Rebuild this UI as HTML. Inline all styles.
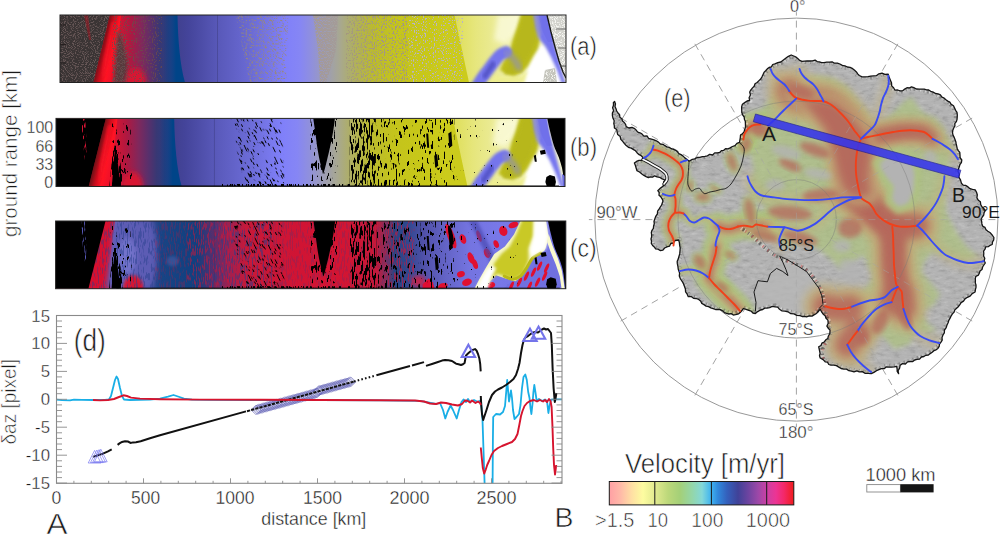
<!DOCTYPE html>
<html><head><meta charset="utf-8"><title>figure</title>
<style>html,body{margin:0;padding:0;background:#fff;overflow:hidden}svg{display:block}text{font-family:"Liberation Sans",sans-serif}</style></head>
<body>
<svg width="1000" height="534" viewBox="0 0 1000 534">
<rect width="1000" height="534" fill="#fff"/>
<defs>
<linearGradient id="gA" gradientUnits="userSpaceOnUse" x1="60" y1="0" x2="566" y2="0"><stop offset="0.0000" stop-color="#e01028"/><stop offset="0.0949" stop-color="#e81028"/><stop offset="0.1146" stop-color="#d81430"/><stop offset="0.1383" stop-color="#b01840"/><stop offset="0.1621" stop-color="#80285c"/><stop offset="0.1818" stop-color="#58306c"/><stop offset="0.1976" stop-color="#383874"/><stop offset="0.2134" stop-color="#2c3c80"/><stop offset="0.2292" stop-color="#40408e"/><stop offset="0.2530" stop-color="#44449a"/><stop offset="0.2767" stop-color="#4c4ca6"/><stop offset="0.3103" stop-color="#5858b8"/><stop offset="0.3755" stop-color="#6a6ad4"/><stop offset="0.4447" stop-color="#8080fa"/><stop offset="0.4743" stop-color="#8686f4"/><stop offset="0.4980" stop-color="#9090dc"/><stop offset="0.5237" stop-color="#9c9cb8"/><stop offset="0.5534" stop-color="#a8a890"/><stop offset="0.5830" stop-color="#b0b05c"/><stop offset="0.6166" stop-color="#baba30"/><stop offset="0.6621" stop-color="#c4c41c"/><stop offset="0.7312" stop-color="#c8c818"/><stop offset="0.7708" stop-color="#cccc1c"/><stop offset="0.7787" stop-color="#dede58"/><stop offset="0.8202" stop-color="#e6e67c"/><stop offset="0.8696" stop-color="#ecec9c"/><stop offset="0.9091" stop-color="#f4f4c0"/><stop offset="1.0000" stop-color="#f8f8d0"/></linearGradient>
<linearGradient id="gC" gradientUnits="userSpaceOnUse" x1="60" y1="0" x2="566" y2="0"><stop offset="0.0000" stop-color="#d81030"/><stop offset="0.1028" stop-color="#d81030"/><stop offset="0.1146" stop-color="#7060b8"/><stop offset="0.1482" stop-color="#6060b8"/><stop offset="0.1779" stop-color="#404898"/><stop offset="0.2075" stop-color="#184484"/><stop offset="0.2767" stop-color="#104080"/><stop offset="0.3063" stop-color="#503070"/><stop offset="0.3399" stop-color="#a02050"/><stop offset="0.3755" stop-color="#c81838"/><stop offset="0.4743" stop-color="#d01434"/><stop offset="0.5534" stop-color="#d41432"/><stop offset="0.6285" stop-color="#c81838"/><stop offset="0.6482" stop-color="#803060"/><stop offset="0.6640" stop-color="#284484"/><stop offset="0.6917" stop-color="#304890"/><stop offset="0.7213" stop-color="#5050a8"/><stop offset="0.7609" stop-color="#6262c4"/><stop offset="0.8103" stop-color="#7474e0"/><stop offset="0.8696" stop-color="#7878e8"/><stop offset="1.0000" stop-color="#7070e0"/></linearGradient>
<linearGradient id="gBlueEdge" gradientUnits="userSpaceOnUse" x1="60" y1="0" x2="566" y2="0"><stop offset="0.2036" stop-color="#104080" stop-opacity="0"/><stop offset="0.2292" stop-color="#004488" stop-opacity="1"/><stop offset="0.2490" stop-color="#004488" stop-opacity="1"/></linearGradient>
<linearGradient id="gRedStreak" gradientUnits="userSpaceOnUse" x1="93.5" y1="82.5" x2="113.9" y2="87.5"><stop offset="0" stop-color="#7c1018"/><stop offset="0.22" stop-color="#cc0c1c"/><stop offset="0.5" stop-color="#ff1424"/><stop offset="0.8" stop-color="#f01028"/><stop offset="1" stop-color="#e01028"/></linearGradient>
<filter id="b1" x="-0.3" y="-0.3" width="1.6" height="1.6"><feGaussianBlur stdDeviation="0.7"/></filter>
<filter id="b2" x="-0.3" y="-0.3" width="1.6" height="1.6"><feGaussianBlur stdDeviation="1.4"/></filter>
<filter id="b3" x="-0.3" y="-0.3" width="1.6" height="1.6"><feGaussianBlur stdDeviation="2.5"/></filter>
<filter id="b4" x="-0.3" y="-0.3" width="1.6" height="1.6"><feGaussianBlur stdDeviation="4"/></filter>
<filter id="nDark" x="0" y="0" width="1" height="1" color-interpolation-filters="sRGB"><feTurbulence type="fractalNoise" baseFrequency="1.1 1.1" numOctaves="1" seed="2" result="n"/><feColorMatrix in="n" type="matrix" values="0 0 0 0 0.400  0 0 0 0 0.337  0 0 0 0 0.337  7 0 0 0 -3.500" result="c"/><feComposite in="c" in2="SourceGraphic" operator="in"/></filter>
<filter id="nDarkR" x="0" y="0" width="1" height="1" color-interpolation-filters="sRGB"><feTurbulence type="fractalNoise" baseFrequency="0.9 0.6" numOctaves="1" seed="3" result="n"/><feColorMatrix in="n" type="matrix" values="0 0 0 0 0.424  0 0 0 0 0.298  0 0 0 0 0.298  12 0 0 0 -6.840" result="c"/><feComposite in="c" in2="SourceGraphic" operator="in"/></filter>
<filter id="nGrayA" x="0" y="0" width="1" height="1" color-interpolation-filters="sRGB"><feTurbulence type="fractalNoise" baseFrequency="0.9 0.55" numOctaves="1" seed="5" result="n"/><feColorMatrix in="n" type="matrix" values="0 0 0 0 0.596  0 0 0 0 0.533  0 0 0 0 0.471  16 0 0 0 -9.360" result="c"/><feComposite in="c" in2="SourceGraphic" operator="in"/></filter>
<filter id="nGrayB" x="0" y="0" width="1" height="1" color-interpolation-filters="sRGB"><feTurbulence type="fractalNoise" baseFrequency="1.0 0.7" numOctaves="1" seed="7" result="n"/><feColorMatrix in="n" type="matrix" values="0 0 0 0 0.643  0 0 0 0 0.604  0 0 0 0 0.596  10 0 0 0 -4.100" result="c"/><feComposite in="c" in2="SourceGraphic" operator="in"/></filter>
<filter id="nGrayC" x="0" y="0" width="1" height="1" color-interpolation-filters="sRGB"><feTurbulence type="fractalNoise" baseFrequency="0.9 0.6" numOctaves="1" seed="11" result="n"/><feColorMatrix in="n" type="matrix" values="0 0 0 0 0.722  0 0 0 0 0.706  0 0 0 0 0.784  16 0 0 0 -9.600" result="c"/><feComposite in="c" in2="SourceGraphic" operator="in"/></filter>
<filter id="nGrayD" x="0" y="0" width="1" height="1" color-interpolation-filters="sRGB"><feTurbulence type="fractalNoise" baseFrequency="0.9 0.6" numOctaves="1" seed="17" result="n"/><feColorMatrix in="n" type="matrix" values="0 0 0 0 0.643  0 0 0 0 0.596  0 0 0 0 0.502  14 0 0 0 -7.700" result="c"/><feComposite in="c" in2="SourceGraphic" operator="in"/></filter>
<filter id="nBlkA" x="0" y="0" width="1" height="1" color-interpolation-filters="sRGB"><feTurbulence type="fractalNoise" baseFrequency="0.55 0.12" numOctaves="2" seed="5" result="n"/><feColorMatrix in="n" type="matrix" values="0 0 0 0 0.000  0 0 0 0 0.000  0 0 0 0 0.000  20 0 0 0 -12.000" result="c"/><feComposite in="c" in2="SourceGraphic" operator="in"/></filter>
<filter id="nBlkB" x="0" y="0" width="1" height="1" color-interpolation-filters="sRGB"><feTurbulence type="fractalNoise" baseFrequency="0.55 0.1" numOctaves="2" seed="9" result="n"/><feColorMatrix in="n" type="matrix" values="0 0 0 0 0.000  0 0 0 0 0.000  0 0 0 0 0.000  20 0 0 0 -10.000" result="c"/><feComposite in="c" in2="SourceGraphic" operator="in"/></filter>
<filter id="nBlkE" x="0" y="0" width="1" height="1" color-interpolation-filters="sRGB"><feTurbulence type="fractalNoise" baseFrequency="0.5 0.2" numOctaves="2" seed="31" result="n"/><feColorMatrix in="n" type="matrix" values="0 0 0 0 0.000  0 0 0 0 0.000  0 0 0 0 0.000  20 0 0 0 -14.800" result="c"/><feComposite in="c" in2="SourceGraphic" operator="in"/></filter>
<filter id="nBlkF" x="0" y="0" width="1" height="1" color-interpolation-filters="sRGB"><feTurbulence type="fractalNoise" baseFrequency="0.5 0.13" numOctaves="2" seed="41" result="n"/><feColorMatrix in="n" type="matrix" values="0 0 0 0 0.000  0 0 0 0 0.000  0 0 0 0 0.000  20 0 0 0 -12.400" result="c"/><feComposite in="c" in2="SourceGraphic" operator="in"/></filter>
<filter id="nBlkD" x="0" y="0" width="1" height="1" color-interpolation-filters="sRGB"><feTurbulence type="fractalNoise" baseFrequency="0.8 0.16" numOctaves="2" seed="15" result="n"/><feColorMatrix in="n" type="matrix" values="0 0 0 0 0.000  0 0 0 0 0.000  0 0 0 0 0.000  20 0 0 0 -12.600" result="c"/><feComposite in="c" in2="SourceGraphic" operator="in"/></filter>
<filter id="nBlkC" x="0" y="0" width="1" height="1" color-interpolation-filters="sRGB"><feTurbulence type="fractalNoise" baseFrequency="0.5 0.14" numOctaves="2" seed="13" result="n"/><feColorMatrix in="n" type="matrix" values="0 0 0 0 0.000  0 0 0 0 0.000  0 0 0 0 0.000  20 0 0 0 -12.800" result="c"/><feComposite in="c" in2="SourceGraphic" operator="in"/></filter>
<filter id="nRedC" x="0" y="0" width="1" height="1" color-interpolation-filters="sRGB"><feTurbulence type="fractalNoise" baseFrequency="0.8 0.12" numOctaves="2" seed="21" result="n"/><feColorMatrix in="n" type="matrix" values="0 0 0 0 0.847  0 0 0 0 0.078  0 0 0 0 0.204  8 0 0 0 -4.000" result="c"/><feComposite in="c" in2="SourceGraphic" operator="in"/></filter>
<filter id="nBluC" x="0" y="0" width="1" height="1" color-interpolation-filters="sRGB"><feTurbulence type="fractalNoise" baseFrequency="0.8 0.12" numOctaves="2" seed="23" result="n"/><feColorMatrix in="n" type="matrix" values="0 0 0 0 0.157  0 0 0 0 0.251  0 0 0 0 0.549  8 0 0 0 -4.160" result="c"/><feComposite in="c" in2="SourceGraphic" operator="in"/></filter>
<filter id="nBluL" x="0" y="0" width="1" height="1" color-interpolation-filters="sRGB"><feTurbulence type="fractalNoise" baseFrequency="0.8 0.12" numOctaves="2" seed="21" result="n"/><feColorMatrix in="n" type="matrix" values="0 0 0 0 0.345  0 0 0 0 0.345  0 0 0 0 0.722  8 0 0 0 -4.000" result="c"/><feComposite in="c" in2="SourceGraphic" operator="in"/></filter>
<filter id="nWhite" x="0" y="0" width="1" height="1" color-interpolation-filters="sRGB"><feTurbulence type="fractalNoise" baseFrequency="1.1 1.1" numOctaves="1" seed="4" result="n"/><feColorMatrix in="n" type="matrix" values="0 0 0 0 0.965  0 0 0 0 0.965  0 0 0 0 0.949  7 0 0 0 -3.500" result="c"/><feComposite in="c" in2="SourceGraphic" operator="in"/></filter>
<clipPath id="cpA"><rect x="60" y="15" width="506" height="67.5"/></clipPath>
<g id="blk">
<path d="M60 15 L109.5 15 L92.5 82.5 L60 82.5Z" fill="#000" />
<path d="M119 42 L121 56 L122.5 68 L124.5 82.5 L115.5 82.5 L116.5 70 L117.5 56Z" fill="#000" />
<path d="M117 42 L122 42 L127 82.5 L113 82.5Z" fill="#000" filter="url(#nBlkB)"/>
<path d="M114 20 L134 20 L136 75 L120 75Z" fill="#000" filter="url(#nBlkC)"/>
<g transform="translate(-22.4 0) skewX(25)"><path d="M248.4 15 L299.4 15 L271 82.5 L232 82.5Z" fill="#000" filter="url(#nBlkD)"/>
</g>
<path d="M315.5 13.0C315.8 15.3 316.8 22.2 317.5 27.0C318.2 31.8 318.8 37.2 319.5 42.0C320.2 46.8 321.2 52.0 322.0 56.0C322.8 60.0 323.9 63.7 324.5 66.0C325.1 68.3 325.1 70.0 325.5 70.0C325.9 70.0 326.3 68.3 327.0 66.0C327.7 63.7 328.6 59.8 329.5 56.0C330.4 52.2 331.5 47.7 332.5 43.0C333.5 38.3 334.7 33.0 335.5 28.0C336.3 23.0 337.2 15.5 337.5 13.0Z" fill="#000"/>
<rect x="313" y="15" width="27" height="62" fill="#000" filter="url(#nBlkA)"/>
<rect x="352" y="15" width="26" height="68" fill="#000" filter="url(#nBlkB)"/>
<rect x="378" y="15" width="24" height="68" fill="#000" filter="url(#nBlkA)"/>
<rect x="402" y="15" width="20" height="68" fill="#000" filter="url(#nBlkC)"/>
<rect x="422" y="15" width="34" height="68" fill="#000" filter="url(#nBlkF)"/>
<path d="M450 30 L453 28 L454 42 L451 44Z" fill="#000" />
<path d="M436 52 L439 50 L440 62 L437 64Z" fill="#000" />
<path d="M428 30 L430 30 L431 44 L429 44Z" fill="#000" />
<rect x="458" y="15" width="60" height="68" fill="#000" filter="url(#nBlkE)"/>
<rect x="120" y="81.5" width="440" height="1" fill="#000"/>
<rect x="225" y="80" width="130" height="2" fill="#000" filter="url(#nBlkB)"/>
<path d="M548.0 13.0C548.5 15.3 549.8 22.2 551.0 27.0C552.2 31.8 553.5 37.5 555.0 42.0C556.5 46.5 558.7 50.3 560.0 54.0C561.3 57.7 562.2 60.7 563.0 64.0C563.8 67.3 564.1 70.7 564.5 74.0C564.9 77.3 565.3 82.3 565.5 84.0 L568 84 L568 13Z" fill="#000"/>
<path d="M547.5 73 L551 71 L556 72.5 L557 78 L556 82.5 L548 82.5 L546.5 78Z" fill="#000" />
<path d="M541 47 L546 46 L547 50 L542 51Z" fill="#000" />
<path d="M535 52 L537 51 L538 58 L536 58Z" fill="#000" />
</g>
<clipPath id="cpLand"><path d="M614.6 101.5 L615.5 103.9 L615.0 106.5 L616.0 108.8 L616.7 111.0 L618.0 113.0 L619.6 114.8 L619.9 117.3 L621.9 118.7 L622.5 121.0 L624.3 122.5 L625.6 124.4 L626.2 126.6 L628.9 128.0 L632.0 127.4 L634.7 128.6 L636.3 130.3 L637.8 132.1 L640.0 132.8 L641.9 133.9 L643.9 136.1 L647.0 135.9 L648.7 138.5 L651.5 139.2 L654.0 139.8 L656.3 140.8 L658.4 142.1 L660.4 144.0 L663.0 144.3 L664.9 145.7 L667.0 146.8 L669.3 147.4 L671.3 148.7 L673.6 149.4 L675.7 150.3 L677.5 151.8 L678.9 153.7 L681.0 154.6 L682.9 155.9 L684.8 157.9 L687.1 159.5 L689.0 161.2 L692.3 159.4 L694.8 158.9 L697.1 157.5 L699.8 157.4 L702.3 156.7 L704.9 156.3 L707.4 155.8 L709.7 154.4 L712.6 155.0 L714.7 152.9 L717.4 152.8 L719.7 152.5 L721.4 150.6 L723.7 150.3 L725.5 148.7 L728.0 148.8 L730.1 147.9 L732.4 146.5 L735.0 145.6 L736.9 143.4 L739.5 142.4 L739.9 140.0 L740.3 137.6 L740.5 135.1 L742.4 133.7 L743.9 132.1 L744.7 129.8 L745.5 126.7 L745.4 123.6 L745.3 121.3 L744.4 119.3 L744.2 117.0 L742.8 115.2 L741.8 112.5 L741.7 109.6 L741.6 106.9 L742.4 104.2 L744.7 102.6 L747.1 101.0 L749.6 100.5 L749.1 97.7 L750.4 94.9 L749.7 92.0 L750.9 89.8 L752.5 87.9 L754.2 86.2 L755.0 83.8 L757.1 82.5 L758.7 80.9 L760.7 79.0 L762.1 76.6 L763.2 74.2 L764.2 72.1 L765.9 70.5 L767.3 68.8 L769.1 67.5 L771.4 66.9 L772.7 64.5 L774.9 63.8 L777.8 62.6 L780.8 62.0 L783.4 60.0 L786.0 58.1 L788.4 56.3 L791.2 55.0 L795.0 56.5 L797.5 58.3 L799.6 60.4 L802.0 61.4 L804.5 61.1 L807.0 61.0 L809.7 61.0 L812.4 60.9 L815.1 60.1 L817.1 61.6 L819.4 61.9 L821.6 62.6 L824.0 62.7 L826.7 62.2 L829.3 62.1 L832.1 61.8 L834.5 63.2 L837.4 63.1 L839.9 64.0 L842.3 65.4 L844.9 65.9 L847.4 67.0 L850.1 67.4 L852.7 68.7 L854.6 70.3 L856.4 71.9 L857.7 73.9 L859.3 75.5 L862.1 76.9 L865.1 76.8 L868.0 76.7 L870.7 76.2 L873.5 75.9 L876.3 75.7 L878.9 73.8 L882.0 73.2 L884.9 74.4 L888.2 74.1 L889.1 77.0 L890.3 79.9 L891.5 82.8 L891.7 85.9 L893.6 87.7 L895.0 90.2 L897.7 90.0 L900.0 90.8 L902.7 90.8 L904.7 89.1 L907.0 87.7 L909.3 88.0 L911.5 86.9 L913.8 87.7 L916.4 89.0 L919.2 89.2 L922.0 89.1 L924.3 89.1 L926.5 89.8 L928.7 90.0 L930.7 91.3 L933.2 92.1 L935.4 93.5 L938.1 93.9 L940.4 94.9 L942.0 97.1 L944.2 98.2 L945.9 99.8 L947.8 101.1 L949.8 102.1 L951.2 104.3 L953.5 105.8 L954.6 108.1 L955.6 110.3 L957.0 112.4 L957.3 115.0 L957.2 117.3 L957.0 119.6 L956.3 121.7 L954.8 123.6 L954.9 126.0 L953.7 128.0 L952.8 130.3 L952.5 132.8 L953.1 135.4 L954.2 137.4 L955.0 139.5 L955.8 141.7 L956.2 143.9 L956.7 146.2 L957.2 148.5 L958.3 150.6 L959.8 152.4 L960.0 155.0 L960.1 157.6 L961.8 160.0 L961.4 162.7 L959.9 164.5 L959.3 166.8 L958.5 168.9 L958.0 171.2 L959.1 174.0 L958.8 177.1 L960.5 179.9 L961.4 183.2 L963.2 185.1 L965.9 185.5 L968.0 186.9 L970.0 188.7 L972.5 189.4 L975.2 189.9 L976.5 192.3 L977.3 194.8 L976.9 197.8 L978.3 200.2 L980.4 201.8 L980.7 204.5 L981.9 206.8 L983.7 208.5 L985.4 210.4 L984.1 212.6 L983.7 215.1 L982.3 217.0 L981.1 219.3 L981.7 221.6 L981.9 223.9 L982.8 226.2 L985.0 227.4 L986.0 229.7 L987.8 231.2 L990.3 232.8 L992.2 235.0 L993.9 237.5 L993.7 239.9 L992.5 242.0 L992.2 244.5 L990.1 245.3 L988.3 246.7 L985.7 246.9 L985.0 249.2 L983.6 251.1 L983.8 253.5 L983.6 256.0 L984.8 258.2 L984.2 260.7 L985.3 263.0 L983.9 265.0 L982.6 267.0 L982.0 269.5 L980.0 271.0 L979.3 273.2 L978.3 275.2 L975.9 276.3 L975.3 278.4 L975.4 280.6 L975.3 282.9 L976.0 285.0 L976.0 287.4 L975.4 289.7 L975.1 292.0 L972.2 293.6 L970.1 296.2 L967.4 297.3 L965.0 298.9 L963.5 301.1 L961.1 302.6 L959.7 304.9 L958.0 307.0 L956.3 308.5 L954.7 310.1 L954.0 312.3 L952.4 313.9 L951.2 315.8 L950.1 318.1 L948.8 320.3 L948.1 322.7 L947.0 325.0 L946.2 327.6 L944.5 330.0 L944.3 332.9 L943.0 335.0 L942.0 337.4 L942.2 340.1 L941.0 342.1 L939.5 344.0 L939.2 346.3 L937.9 348.4 L936.1 349.8 L933.9 350.7 L932.2 352.3 L930.2 353.6 L928.4 355.0 L925.8 355.3 L923.9 356.5 L921.4 357.0 L919.6 359.1 L916.9 359.4 L914.7 360.0 L912.8 361.6 L910.3 361.5 L907.6 361.9 L905.4 364.0 L902.4 363.6 L900.2 365.2 L899.6 368.1 L898.1 370.8 L898.6 373.7 L897.2 371.4 L897.1 368.8 L896.7 366.3 L894.2 366.8 L891.6 367.2 L889.1 367.2 L886.4 366.8 L884.2 368.7 L881.4 368.6 L878.9 369.7 L876.5 370.7 L873.9 372.4 L871.2 373.7 L868.1 373.4 L864.9 373.3 L862.3 371.6 L859.3 371.8 L856.9 370.8 L854.0 371.9 L851.5 371.2 L848.9 370.7 L846.6 369.1 L843.8 369.1 L841.1 368.5 L838.8 367.1 L836.4 365.6 L833.7 365.1 L830.9 365.2 L828.8 364.5 L827.5 362.2 L825.2 361.8 L823.1 359.6 L820.2 358.0 L819.5 355.7 L820.1 353.3 L819.4 350.2 L818.7 346.8 L821.0 345.5 L821.9 343.2 L824.2 342.0 L825.8 339.8 L827.8 338.5 L828.3 336.2 L829.9 333.3 L830.0 330.0 L828.2 328.2 L826.9 326.1 L828.2 323.2 L827.9 320.1 L826.0 318.3 L825.2 315.8 L823.2 314.2 L821.8 312.2 L820.2 309.2 L817.7 312.3 L816.0 313.8 L814.0 314.9 L812.0 316.1 L809.2 315.9 L806.5 316.9 L804.3 316.4 L802.1 316.5 L800.0 315.6 L796.8 315.4 L794.0 313.9 L790.8 313.7 L788.0 311.8 L784.9 311.2 L781.7 310.8 L779.5 309.3 L777.7 307.2 L775.1 306.8 L772.2 306.4 L769.7 307.6 L767.0 308.0 L764.7 308.1 L762.7 309.5 L760.5 310.0 L757.7 311.6 L755.4 313.5 L752.9 313.0 L751.1 311.1 L748.8 310.4 L746.1 309.3 L743.5 308.5 L740.8 311.9 L738.6 313.8 L735.6 314.7 L733.3 315.0 L731.2 313.6 L728.9 314.0 L726.6 313.4 L724.4 312.6 L722.6 310.8 L720.4 309.7 L718.0 309.5 L715.5 309.5 L713.2 308.7 L710.8 307.9 L708.6 306.6 L706.1 306.1 L704.0 304.6 L701.8 303.4 L700.6 300.9 L698.7 299.4 L696.2 298.5 L693.5 298.3 L691.2 296.5 L688.3 296.7 L687.2 294.2 L685.6 291.9 L685.4 289.0 L684.6 286.8 L683.8 284.5 L682.8 282.4 L680.5 279.0 L679.3 276.1 L679.6 273.1 L678.2 269.0 L677.9 266.3 L677.3 263.4 L677.2 261.2 L678.2 259.1 L678.8 257.0 L679.7 253.9 L680.0 250.8 L680.2 247.9 L679.6 245.0 L679.4 242.6 L678.6 240.0 L675.1 240.5 L673.5 243.0 L670.8 243.5 L669.5 246.2 L666.9 246.9 L664.6 248.0 L662.9 250.2 L660.4 250.6 L658.1 249.2 L655.6 248.9 L654.3 247.0 L652.6 245.5 L651.3 243.5 L651.5 241.2 L651.0 239.0 L651.6 236.8 L651.6 234.6 L651.3 232.5 L652.0 230.3 L653.4 228.4 L653.6 226.0 L654.3 223.8 L654.0 221.4 L654.7 219.2 L655.7 216.4 L657.4 214.0 L657.6 211.2 L659.2 208.9 L660.3 207.0 L661.6 205.0 L663.0 201.0 L662.1 198.8 L660.8 196.9 L659.0 195.2 L659.2 192.5 L657.8 190.7 L660.5 188.0 L662.9 186.4 L663.9 184.4 L663.6 182.0 L665.1 180.0 L662.1 178.9 L659.6 177.3 L657.0 176.9 L654.5 175.8 L652.6 177.2 L650.2 176.9 L648.4 177.7 L646.1 176.6 L643.9 175.4 L641.9 173.9 L639.5 172.0 L636.9 170.6 L636.2 168.2 L635.5 165.8 L634.4 163.1 L636.5 161.4 L639.0 160.3 L641.6 160.3 L643.9 159.3 L642.5 157.0 L640.7 155.3 L638.6 154.3 L637.0 152.7 L635.5 150.8 L633.6 149.6 L631.2 148.1 L628.4 147.3 L626.2 145.6 L624.4 143.5 L622.7 141.4 L620.8 139.4 L620.2 136.5 L617.7 134.6 L617.1 131.8 L616.7 129.5 L614.4 128.0 L614.3 125.6 L613.8 123.5 L614.2 120.8 L613.0 118.3 L612.4 115.7 L612.4 113.1 L613.6 110.6 L612.6 107.8 L613.5 105.2 L613.4 102.4Z"/></clipPath>
<filter id="tex" x="0" y="0" width="1" height="1" color-interpolation-filters="sRGB"><feTurbulence type="fractalNoise" baseFrequency="0.12 0.3" numOctaves="3" seed="8" result="n"/><feColorMatrix in="n" type="matrix" values="0 0 0 0 0.35  0 0 0 0 0.35  0 0 0 0 0.35  0.7 0 0 0 -0.38" result="c"/><feComposite in="c" in2="SourceGraphic" operator="in"/></filter>
<filter id="tex2" x="0" y="0" width="1" height="1" color-interpolation-filters="sRGB"><feTurbulence type="fractalNoise" baseFrequency="0.12 0.3" numOctaves="3" seed="8" result="n"/><feColorMatrix in="n" type="matrix" values="0 0 0 0 0.95  0 0 0 0 0.95  0 0 0 0 0.95  -0.7 0 0 0 0.32" result="c"/><feComposite in="c" in2="SourceGraphic" operator="in"/></filter>
<filter id="mb5" x="-0.2" y="-0.2" width="1.4" height="1.4"><feGaussianBlur stdDeviation="5"/></filter>
<filter id="mb8" x="-0.2" y="-0.2" width="1.4" height="1.4"><feGaussianBlur stdDeviation="7"/></filter>
<filter id="mb3" x="-0.2" y="-0.2" width="1.4" height="1.4"><feGaussianBlur stdDeviation="2.5"/></filter>
</defs>
<!-- map -->
<g opacity="1.0" fill="none" stroke="#8c8c8c">
<circle cx="796.4" cy="219.6" r="201.5" stroke-width="0.9"/>
<circle cx="796.4" cy="219.6" r="118.4" stroke-width="0.9"/>
<circle cx="796.4" cy="219.6" r="40" stroke-width="0.9"/>
<path d="M796.4 219.6L796.4 12.1M816.4 185.0L898.6 42.5M831.0 199.6L973.5 117.3M796.4 219.6L1003.9 219.6M831.0 239.6L973.5 321.8M816.4 254.2L898.6 396.7M796.4 219.6L796.4 427.1M776.4 254.2L694.1 396.7M761.8 239.6L619.3 321.9M796.4 219.6L588.9 219.6M761.8 199.6L619.3 117.3M776.4 185.0L694.1 42.5" stroke-width="1" stroke-dasharray="7 5" stroke="#a4a4a4"/>
</g>
<path d="M614.6 101.5 L615.5 103.9 L615.0 106.5 L616.0 108.8 L616.7 111.0 L618.0 113.0 L619.6 114.8 L619.9 117.3 L621.9 118.7 L622.5 121.0 L624.3 122.5 L625.6 124.4 L626.2 126.6 L628.9 128.0 L632.0 127.4 L634.7 128.6 L636.3 130.3 L637.8 132.1 L640.0 132.8 L641.9 133.9 L643.9 136.1 L647.0 135.9 L648.7 138.5 L651.5 139.2 L654.0 139.8 L656.3 140.8 L658.4 142.1 L660.4 144.0 L663.0 144.3 L664.9 145.7 L667.0 146.8 L669.3 147.4 L671.3 148.7 L673.6 149.4 L675.7 150.3 L677.5 151.8 L678.9 153.7 L681.0 154.6 L682.9 155.9 L684.8 157.9 L687.1 159.5 L689.0 161.2 L692.3 159.4 L694.8 158.9 L697.1 157.5 L699.8 157.4 L702.3 156.7 L704.9 156.3 L707.4 155.8 L709.7 154.4 L712.6 155.0 L714.7 152.9 L717.4 152.8 L719.7 152.5 L721.4 150.6 L723.7 150.3 L725.5 148.7 L728.0 148.8 L730.1 147.9 L732.4 146.5 L735.0 145.6 L736.9 143.4 L739.5 142.4 L739.9 140.0 L740.3 137.6 L740.5 135.1 L742.4 133.7 L743.9 132.1 L744.7 129.8 L745.5 126.7 L745.4 123.6 L745.3 121.3 L744.4 119.3 L744.2 117.0 L742.8 115.2 L741.8 112.5 L741.7 109.6 L741.6 106.9 L742.4 104.2 L744.7 102.6 L747.1 101.0 L749.6 100.5 L749.1 97.7 L750.4 94.9 L749.7 92.0 L750.9 89.8 L752.5 87.9 L754.2 86.2 L755.0 83.8 L757.1 82.5 L758.7 80.9 L760.7 79.0 L762.1 76.6 L763.2 74.2 L764.2 72.1 L765.9 70.5 L767.3 68.8 L769.1 67.5 L771.4 66.9 L772.7 64.5 L774.9 63.8 L777.8 62.6 L780.8 62.0 L783.4 60.0 L786.0 58.1 L788.4 56.3 L791.2 55.0 L795.0 56.5 L797.5 58.3 L799.6 60.4 L802.0 61.4 L804.5 61.1 L807.0 61.0 L809.7 61.0 L812.4 60.9 L815.1 60.1 L817.1 61.6 L819.4 61.9 L821.6 62.6 L824.0 62.7 L826.7 62.2 L829.3 62.1 L832.1 61.8 L834.5 63.2 L837.4 63.1 L839.9 64.0 L842.3 65.4 L844.9 65.9 L847.4 67.0 L850.1 67.4 L852.7 68.7 L854.6 70.3 L856.4 71.9 L857.7 73.9 L859.3 75.5 L862.1 76.9 L865.1 76.8 L868.0 76.7 L870.7 76.2 L873.5 75.9 L876.3 75.7 L878.9 73.8 L882.0 73.2 L884.9 74.4 L888.2 74.1 L889.1 77.0 L890.3 79.9 L891.5 82.8 L891.7 85.9 L893.6 87.7 L895.0 90.2 L897.7 90.0 L900.0 90.8 L902.7 90.8 L904.7 89.1 L907.0 87.7 L909.3 88.0 L911.5 86.9 L913.8 87.7 L916.4 89.0 L919.2 89.2 L922.0 89.1 L924.3 89.1 L926.5 89.8 L928.7 90.0 L930.7 91.3 L933.2 92.1 L935.4 93.5 L938.1 93.9 L940.4 94.9 L942.0 97.1 L944.2 98.2 L945.9 99.8 L947.8 101.1 L949.8 102.1 L951.2 104.3 L953.5 105.8 L954.6 108.1 L955.6 110.3 L957.0 112.4 L957.3 115.0 L957.2 117.3 L957.0 119.6 L956.3 121.7 L954.8 123.6 L954.9 126.0 L953.7 128.0 L952.8 130.3 L952.5 132.8 L953.1 135.4 L954.2 137.4 L955.0 139.5 L955.8 141.7 L956.2 143.9 L956.7 146.2 L957.2 148.5 L958.3 150.6 L959.8 152.4 L960.0 155.0 L960.1 157.6 L961.8 160.0 L961.4 162.7 L959.9 164.5 L959.3 166.8 L958.5 168.9 L958.0 171.2 L959.1 174.0 L958.8 177.1 L960.5 179.9 L961.4 183.2 L963.2 185.1 L965.9 185.5 L968.0 186.9 L970.0 188.7 L972.5 189.4 L975.2 189.9 L976.5 192.3 L977.3 194.8 L976.9 197.8 L978.3 200.2 L980.4 201.8 L980.7 204.5 L981.9 206.8 L983.7 208.5 L985.4 210.4 L984.1 212.6 L983.7 215.1 L982.3 217.0 L981.1 219.3 L981.7 221.6 L981.9 223.9 L982.8 226.2 L985.0 227.4 L986.0 229.7 L987.8 231.2 L990.3 232.8 L992.2 235.0 L993.9 237.5 L993.7 239.9 L992.5 242.0 L992.2 244.5 L990.1 245.3 L988.3 246.7 L985.7 246.9 L985.0 249.2 L983.6 251.1 L983.8 253.5 L983.6 256.0 L984.8 258.2 L984.2 260.7 L985.3 263.0 L983.9 265.0 L982.6 267.0 L982.0 269.5 L980.0 271.0 L979.3 273.2 L978.3 275.2 L975.9 276.3 L975.3 278.4 L975.4 280.6 L975.3 282.9 L976.0 285.0 L976.0 287.4 L975.4 289.7 L975.1 292.0 L972.2 293.6 L970.1 296.2 L967.4 297.3 L965.0 298.9 L963.5 301.1 L961.1 302.6 L959.7 304.9 L958.0 307.0 L956.3 308.5 L954.7 310.1 L954.0 312.3 L952.4 313.9 L951.2 315.8 L950.1 318.1 L948.8 320.3 L948.1 322.7 L947.0 325.0 L946.2 327.6 L944.5 330.0 L944.3 332.9 L943.0 335.0 L942.0 337.4 L942.2 340.1 L941.0 342.1 L939.5 344.0 L939.2 346.3 L937.9 348.4 L936.1 349.8 L933.9 350.7 L932.2 352.3 L930.2 353.6 L928.4 355.0 L925.8 355.3 L923.9 356.5 L921.4 357.0 L919.6 359.1 L916.9 359.4 L914.7 360.0 L912.8 361.6 L910.3 361.5 L907.6 361.9 L905.4 364.0 L902.4 363.6 L900.2 365.2 L899.6 368.1 L898.1 370.8 L898.6 373.7 L897.2 371.4 L897.1 368.8 L896.7 366.3 L894.2 366.8 L891.6 367.2 L889.1 367.2 L886.4 366.8 L884.2 368.7 L881.4 368.6 L878.9 369.7 L876.5 370.7 L873.9 372.4 L871.2 373.7 L868.1 373.4 L864.9 373.3 L862.3 371.6 L859.3 371.8 L856.9 370.8 L854.0 371.9 L851.5 371.2 L848.9 370.7 L846.6 369.1 L843.8 369.1 L841.1 368.5 L838.8 367.1 L836.4 365.6 L833.7 365.1 L830.9 365.2 L828.8 364.5 L827.5 362.2 L825.2 361.8 L823.1 359.6 L820.2 358.0 L819.5 355.7 L820.1 353.3 L819.4 350.2 L818.7 346.8 L821.0 345.5 L821.9 343.2 L824.2 342.0 L825.8 339.8 L827.8 338.5 L828.3 336.2 L829.9 333.3 L830.0 330.0 L828.2 328.2 L826.9 326.1 L828.2 323.2 L827.9 320.1 L826.0 318.3 L825.2 315.8 L823.2 314.2 L821.8 312.2 L820.2 309.2 L817.7 312.3 L816.0 313.8 L814.0 314.9 L812.0 316.1 L809.2 315.9 L806.5 316.9 L804.3 316.4 L802.1 316.5 L800.0 315.6 L796.8 315.4 L794.0 313.9 L790.8 313.7 L788.0 311.8 L784.9 311.2 L781.7 310.8 L779.5 309.3 L777.7 307.2 L775.1 306.8 L772.2 306.4 L769.7 307.6 L767.0 308.0 L764.7 308.1 L762.7 309.5 L760.5 310.0 L757.7 311.6 L755.4 313.5 L752.9 313.0 L751.1 311.1 L748.8 310.4 L746.1 309.3 L743.5 308.5 L740.8 311.9 L738.6 313.8 L735.6 314.7 L733.3 315.0 L731.2 313.6 L728.9 314.0 L726.6 313.4 L724.4 312.6 L722.6 310.8 L720.4 309.7 L718.0 309.5 L715.5 309.5 L713.2 308.7 L710.8 307.9 L708.6 306.6 L706.1 306.1 L704.0 304.6 L701.8 303.4 L700.6 300.9 L698.7 299.4 L696.2 298.5 L693.5 298.3 L691.2 296.5 L688.3 296.7 L687.2 294.2 L685.6 291.9 L685.4 289.0 L684.6 286.8 L683.8 284.5 L682.8 282.4 L680.5 279.0 L679.3 276.1 L679.6 273.1 L678.2 269.0 L677.9 266.3 L677.3 263.4 L677.2 261.2 L678.2 259.1 L678.8 257.0 L679.7 253.9 L680.0 250.8 L680.2 247.9 L679.6 245.0 L679.4 242.6 L678.6 240.0 L675.1 240.5 L673.5 243.0 L670.8 243.5 L669.5 246.2 L666.9 246.9 L664.6 248.0 L662.9 250.2 L660.4 250.6 L658.1 249.2 L655.6 248.9 L654.3 247.0 L652.6 245.5 L651.3 243.5 L651.5 241.2 L651.0 239.0 L651.6 236.8 L651.6 234.6 L651.3 232.5 L652.0 230.3 L653.4 228.4 L653.6 226.0 L654.3 223.8 L654.0 221.4 L654.7 219.2 L655.7 216.4 L657.4 214.0 L657.6 211.2 L659.2 208.9 L660.3 207.0 L661.6 205.0 L663.0 201.0 L662.1 198.8 L660.8 196.9 L659.0 195.2 L659.2 192.5 L657.8 190.7 L660.5 188.0 L662.9 186.4 L663.9 184.4 L663.6 182.0 L665.1 180.0 L662.1 178.9 L659.6 177.3 L657.0 176.9 L654.5 175.8 L652.6 177.2 L650.2 176.9 L648.4 177.7 L646.1 176.6 L643.9 175.4 L641.9 173.9 L639.5 172.0 L636.9 170.6 L636.2 168.2 L635.5 165.8 L634.4 163.1 L636.5 161.4 L639.0 160.3 L641.6 160.3 L643.9 159.3 L642.5 157.0 L640.7 155.3 L638.6 154.3 L637.0 152.7 L635.5 150.8 L633.6 149.6 L631.2 148.1 L628.4 147.3 L626.2 145.6 L624.4 143.5 L622.7 141.4 L620.8 139.4 L620.2 136.5 L617.7 134.6 L617.1 131.8 L616.7 129.5 L614.4 128.0 L614.3 125.6 L613.8 123.5 L614.2 120.8 L613.0 118.3 L612.4 115.7 L612.4 113.1 L613.6 110.6 L612.6 107.8 L613.5 105.2 L613.4 102.4Z" fill="#b3b3b3"/>
<g clip-path="url(#cpLand)">
<rect x="600" y="40" width="400" height="350" fill="#000" filter="url(#tex)"/>
<rect x="600" y="40" width="400" height="350" fill="#000" filter="url(#tex2)"/>
<path d="M755.2 313.8 L756 302.4 L754 292 L758 280.7 L767.4 281.8 L770.4 273.5 L776.6 268.4 L782.8 271.5 L785.9 269.4 L779.7 256 L788 260 L798.2 266.3 L806.5 271.5 L812.6 279.7 L818.8 288 L822 296.2 L823 304.4 L819 320 L750 320Z" fill="#b6b6b6" opacity="0.8"/>
<path d="M750 130 L760 112 L773.5 93.8 L787 83.7 L800.4 77 L817.3 75.3 L834 78.6 L847.6 87 L857.7 100.6 L867.9 114 L874.6 125 L884.7 120 L894.8 110.7 L905 100.6 L911.7 97.2 L918.4 107.3 L925 114 L935.3 117.4 L943.7 127.5 L948.7 139.3 L953.8 147.7 L950 158 L948.7 178 L945.4 195 L946 211.8 L951 222 L957.6 234 L966 246 L978.5 257 L965 262 L947 257 L932 252 L924 262 L921 272 L930 282 L940 294 L934 305 L921 312 L928 324 L937 330 L925 333 L915.6 330 L910 344 L894.6 349 L886 340 L879 334 L870 342 L863 349 L847.5 346 L853 333 L858 323 L866 313 L873.7 307 L862 306 L852.7 308 L840 311 L826 308 L832 302 L842 297 L855 293 L863 290 L870 283 L873.7 276 L868 265 L863 255 L852 262 L842 270.6 L834 262 L826.5 255 L818 249 L808 244.3 L790 246 L774 241 L760.4 234 L745 231 L745 222 L760 215 L765 205 L752 200 L748 185 L754 170 L750 150 L746 140Z" fill="#aec47a" filter="url(#mb3)" opacity="0.66"/>
<g fill="none" stroke="#aec47a" stroke-linecap="round" stroke-linejoin="round" filter="url(#mb3)" opacity="0.85">
<path d="M743.4 139.5 L744.5 134 L746.8 130.3 L750 127 L753.6 125.2 L757 124.5 L760.4 124.5" stroke-width="27.3"/>
<path d="M767.3 226.6 L760.5 225.3 L756 224.5 L752.5 226.8 L748.5 226.2 L744 225.6 L738 226.5" stroke-width="27.3"/>
<path d="M738 226.5 L730.5 229 L724 228.5 L718 226" stroke-width="27.3"/>
<path d="M718 226 L713.5 222 L709 218.5 L704 217.5 L699 220 L694.5 222.5 L690 221 L686.5 216.5 L683.5 213.5" stroke-width="7.8"/>
<path d="M683.5 213.5 L679.5 212.5 L675.2 212.3 L675.6 206 L675.5 199 L674.4 194.8 L676 189 L678.6 184.3 L681.5 180 L682.8 176 L682.8 171 L681.8 167.6 L679.5 164 L676.5 161.3 L673 158.5 L669.2 156 L665 153.6 L660.8 151.8 L657 150.4 L653.5 149.7" stroke-width="13.0"/>
<path d="M675.2 212.3 L671 217 L668.5 223 L668.8 230 L672 236 L673.8 241 L673.5 245.5" stroke-width="13.0"/>
<path d="M644 158.1 L647.5 155.8 L650.3 152.9 L652.2 149.5 L653.5 145.6" stroke-width="7.8"/>
<path d="M680.7 162.3 L684 161 L687 160.2" stroke-width="7.8"/>
<path d="M662.9 193.8 L666 195.2 L669.2 195.9 L672 195.6 L674.4 194.8" stroke-width="7.8"/>
<path d="M718 226 L719.5 231 L717 238 L715.5 245 L716.5 247" stroke-width="16.4"/>
<path d="M716.5 247 L715.5 254 L713 262 L710.5 270 L709 278" stroke-width="27.3"/>
<path d="M709 278 L703 273.5 L696 270.5 L688 269.5 L680 271" stroke-width="7.8"/>
<path d="M709 278 L714 284 L720 290 L727 297 L734 304 L740 311" stroke-width="27.3"/>
</g>
<g fill="none" stroke="#c2b07c" stroke-linecap="round" stroke-linejoin="round" filter="url(#mb3)" opacity="0.8">
<path d="M743.4 139.5 L744.5 134 L746.8 130.3 L750 127 L753.6 125.2 L757 124.5 L760.4 124.5" stroke-width="14.7"/>
<path d="M767.3 226.6 L760.5 225.3 L756 224.5 L752.5 226.8 L748.5 226.2 L744 225.6 L738 226.5" stroke-width="14.7"/>
<path d="M738 226.5 L730.5 229 L724 228.5 L718 226" stroke-width="14.7"/>
<path d="M718 226 L713.5 222 L709 218.5 L704 217.5 L699 220 L694.5 222.5 L690 221 L686.5 216.5 L683.5 213.5" stroke-width="4.2"/>
<path d="M683.5 213.5 L679.5 212.5 L675.2 212.3 L675.6 206 L675.5 199 L674.4 194.8 L676 189 L678.6 184.3 L681.5 180 L682.8 176 L682.8 171 L681.8 167.6 L679.5 164 L676.5 161.3 L673 158.5 L669.2 156 L665 153.6 L660.8 151.8 L657 150.4 L653.5 149.7" stroke-width="7.0"/>
<path d="M675.2 212.3 L671 217 L668.5 223 L668.8 230 L672 236 L673.8 241 L673.5 245.5" stroke-width="7.0"/>
<path d="M644 158.1 L647.5 155.8 L650.3 152.9 L652.2 149.5 L653.5 145.6" stroke-width="4.2"/>
<path d="M680.7 162.3 L684 161 L687 160.2" stroke-width="4.2"/>
<path d="M662.9 193.8 L666 195.2 L669.2 195.9 L672 195.6 L674.4 194.8" stroke-width="4.2"/>
<path d="M718 226 L719.5 231 L717 238 L715.5 245 L716.5 247" stroke-width="8.8"/>
<path d="M716.5 247 L715.5 254 L713 262 L710.5 270 L709 278" stroke-width="14.7"/>
<path d="M709 278 L703 273.5 L696 270.5 L688 269.5 L680 271" stroke-width="4.2"/>
<path d="M709 278 L714 284 L720 290 L727 297 L734 304 L740 311" stroke-width="14.7"/>
</g>
<g fill="none" stroke="#b5685c" stroke-linecap="round" stroke-linejoin="round" filter="url(#mb3)" opacity="0.7">
<path d="M743.4 139.5 L744.5 134 L746.8 130.3 L750 127 L753.6 125.2 L757 124.5 L760.4 124.5" stroke-width="7.4"/>
<path d="M767.3 226.6 L760.5 225.3 L756 224.5 L752.5 226.8 L748.5 226.2 L744 225.6 L738 226.5" stroke-width="7.4"/>
<path d="M738 226.5 L730.5 229 L724 228.5 L718 226" stroke-width="7.4"/>
<path d="M683.5 213.5 L679.5 212.5 L675.2 212.3 L675.6 206 L675.5 199 L674.4 194.8 L676 189 L678.6 184.3 L681.5 180 L682.8 176 L682.8 171 L681.8 167.6 L679.5 164 L676.5 161.3 L673 158.5 L669.2 156 L665 153.6 L660.8 151.8 L657 150.4 L653.5 149.7" stroke-width="3.5"/>
<path d="M675.2 212.3 L671 217 L668.5 223 L668.8 230 L672 236 L673.8 241 L673.5 245.5" stroke-width="3.5"/>
<path d="M716.5 247 L715.5 254 L713 262 L710.5 270 L709 278" stroke-width="7.4"/>
<path d="M709 278 L714 284 L720 290 L727 297 L734 304 L740 311" stroke-width="7.4"/>
</g>
<g fill="none" stroke="#c2b07c" stroke-linecap="round" stroke-linejoin="round" filter="url(#mb5)" opacity="0.9">
<path d="M789.4 91.1 L792.5 95 L796.2 97.9 L802 99.6 L808.1 100.6 L816 101 L823.5 101.3 L830 104 L835.4 108.1 L840.5 113 L845.6 118.4 L850 124 L854.1 130.3 L857.5 134.5 L861 138.8" stroke-width="44.0"/>
<path d="M861 138.8 L868 137 L876.3 135.4 L885 133.5 L893.3 132 L902 130.8 L910.4 130.3 L917.5 130.8 L924 132 L928.5 135 L932.5 138.8" stroke-width="24.2"/>
<path d="M861 138.8 L858.8 144 L857.5 149 L856.3 157 L855.8 166 L856.2 175 L857.5 183.1 L859 190.5 L861 197.4 L865 200.8 L869.5 203.5 L873 208 L876.3 213.8 L881 218.5 L886.5 222.1 L893 225 L900.1 226.6 L909 226.6 L917.2 225.6" stroke-width="44.0"/>
<path d="M892.3 226.6 L893 235 L893.3 244.3 L893.7 254 L894 264.7 L895 275 L896 283.5 L897.8 286.9" stroke-width="44.0"/>
<path d="M897.8 286.9 L900 289.5 L901.8 292 L902.5 300 L903.5 309" stroke-width="44.0"/>
<path d="M897.8 286.9 L895.5 292 L893.5 297 L891.6 302.2" stroke-width="44.0"/>
<path d="M857.5 331.2 L852.5 337.5 L847.3 344.8" stroke-width="44.0"/>
<path d="M850.7 307.3 L844.5 308.7 L838.8 309 L832 308 L825.2 306.3" stroke-width="44.0"/>
</g>
<g fill="none" stroke="#c2b07c" stroke-linecap="round" stroke-linejoin="round" filter="url(#mb5)" opacity="0.6">
<path d="M789.4 91.1 L792.5 95 L796.2 97.9 L802 99.6 L808.1 100.6 L816 101 L823.5 101.3 L830 104 L835.4 108.1 L840.5 113 L845.6 118.4 L850 124 L854.1 130.3 L857.5 134.5 L861 138.8" stroke-width="16.0"/>
<path d="M861 138.8 L868 137 L876.3 135.4 L885 133.5 L893.3 132 L902 130.8 L910.4 130.3 L917.5 130.8 L924 132 L928.5 135 L932.5 138.8" stroke-width="8.8"/>
<path d="M932.5 138.8 L938.5 142 L944.4 145.6 L950 149.5 L954.6 154.1 L958 159.2" stroke-width="9.6"/>
<path d="M861 138.8 L858.8 144 L857.5 149 L856.3 157 L855.8 166 L856.2 175 L857.5 183.1 L859 190.5 L861 197.4 L865 200.8 L869.5 203.5 L873 208 L876.3 213.8 L881 218.5 L886.5 222.1 L893 225 L900.1 226.6 L909 226.6 L917.2 225.6" stroke-width="16.0"/>
<path d="M770.7 69 L772.5 73.5 L775.8 77.5 L780 81 L784.3 84.3 L787 87.5 L789.4 91.1" stroke-width="9.6"/>
<path d="M799.6 69 L801.5 73.5 L804.7 77.5 L809 81 L813.3 84.3 L817 89 L820 94.5 L822 98 L823.5 101.3" stroke-width="9.6"/>
<path d="M796.2 98.6 L790.5 104 L784.3 109.8 L780 114 L775.8 118.4 L772 122 L768 125.5" stroke-width="9.6"/>
<path d="M888.2 75.8 L888.8 81 L888.2 86 L886 92 L883.1 97.9 L881 105 L879.7 111.6 L877.5 118.5 L874.6 125.2 L868 132 L861 138.8" stroke-width="9.6"/>
<path d="M861 197.4 L851.5 197.2 L842.2 197.4 L833.5 198.6 L825.2 199.4 L816.5 200 L808.1 200.1 L799.5 199.9 L791.1 199.4 L782.5 198.6 L774.1 197.4 L767 196.5 L760.4 195 L755.5 191.5 L751.9 186.5 L749.2 181.5 L747.5 176.3" stroke-width="9.6"/>
<path d="M861 197.4 L855 198.5 L849 200 L842 203.3 L835.4 207 L830 211.2 L825.2 215.5 L820 220 L815 223.9 L806 228.5 L797.9 230.7 L791 229 L784.3 227.3 L775.5 227 L767.3 226.6" stroke-width="9.6"/>
<path d="M784.3 227.3 L781.5 233 L779.2 239.2 L779.5 243.5 L780.2 247.7" stroke-width="9.6"/>
<path d="M892.3 226.6 L893 235 L893.3 244.3 L893.7 254 L894 264.7 L895 275 L896 283.5 L897.8 286.9" stroke-width="16.0"/>
<path d="M917.2 225.6 L921.5 221.5 L925.7 217 L931 210.5 L935.9 203.4 L940 195 L942.7 188 L944 181 L944.4 176.3" stroke-width="9.6"/>
<path d="M917.2 225.6 L921.5 229.5 L925.7 234.1 L931.5 241 L937.6 247.7 L942.5 252.5 L947.8 256.2 L958 260.5 L968.3 263 L976 262.5 L983.6 261.3" stroke-width="9.6"/>
<path d="M897.8 286.9 L900 289.5 L901.8 292 L902.5 300 L903.5 309" stroke-width="16.0"/>
<path d="M903.5 309 L906.5 318 L910.4 326.1 L915 331.5 L920.6 336.3 L929.5 340.3 L939.3 343.1" stroke-width="9.6"/>
<path d="M897.8 286.9 L895.5 292 L893.5 297 L891.6 302.2" stroke-width="16.0"/>
<path d="M891.6 302.2 L883.5 304.8 L876.3 309 L871 314 L866.1 319.3 L861.5 325 L857.5 331.2" stroke-width="9.6"/>
<path d="M857.5 331.2 L852.5 337.5 L847.3 344.8" stroke-width="16.0"/>
<path d="M847.3 344.8 L851 352 L855.8 358.4 L863 365.5 L871.2 372" stroke-width="9.6"/>
<path d="M897.8 286.9 L892 290 L884.8 297.1 L877 299.5 L869.5 300.5 L860 303.5 L850.7 307.3" stroke-width="9.6"/>
<path d="M850.7 307.3 L844.5 308.7 L838.8 309 L832 308 L825.2 306.3" stroke-width="16.0"/>
</g>
<path d="M835 105 L862 135 L875 135 L900 128 L925 130 L930 138 L905 138 L880 142 L868 150 L872 190 L882 208 L897 218 L917 222 L917 230 L903 235 L902 260 L905 290 L908 305 L900 305 L893 300 L888 296 L886 270 L884 240 L870 225 L855 215 L845 205 L835 200 L840 185 L835 170 L845 150 L845 135 L830 115Z" fill="none" stroke="#c2b07c" stroke-width="16" stroke-linejoin="round" filter="url(#mb5)" opacity="0.85"/>
<g fill="none" stroke="#b5685c" stroke-linecap="round" stroke-linejoin="round" filter="url(#mb5)" opacity="0.88">
<path d="M789.4 91.1 L792.5 95 L796.2 97.9 L802 99.6 L808.1 100.6 L816 101 L823.5 101.3 L830 104 L835.4 108.1 L840.5 113 L845.6 118.4 L850 124 L854.1 130.3 L857.5 134.5 L861 138.8" stroke-width="25.0"/>
<path d="M861 138.8 L868 137 L876.3 135.4 L885 133.5 L893.3 132 L902 130.8 L910.4 130.3 L917.5 130.8 L924 132 L928.5 135 L932.5 138.8" stroke-width="13.8"/>
<path d="M861 138.8 L858.8 144 L857.5 149 L856.3 157 L855.8 166 L856.2 175 L857.5 183.1 L859 190.5 L861 197.4 L865 200.8 L869.5 203.5 L873 208 L876.3 213.8 L881 218.5 L886.5 222.1 L893 225 L900.1 226.6 L909 226.6 L917.2 225.6" stroke-width="25.0"/>
<path d="M892.3 226.6 L893 235 L893.3 244.3 L893.7 254 L894 264.7 L895 275 L896 283.5 L897.8 286.9" stroke-width="25.0"/>
<path d="M897.8 286.9 L900 289.5 L901.8 292 L902.5 300 L903.5 309" stroke-width="25.0"/>
<path d="M897.8 286.9 L895.5 292 L893.5 297 L891.6 302.2" stroke-width="25.0"/>
<path d="M857.5 331.2 L852.5 337.5 L847.3 344.8" stroke-width="25.0"/>
<path d="M850.7 307.3 L844.5 308.7 L838.8 309 L832 308 L825.2 306.3" stroke-width="25.0"/>
</g>
<path d="M835 105 L862 135 L875 135 L900 128 L925 130 L930 138 L905 138 L880 142 L868 150 L872 190 L882 208 L897 218 L917 222 L917 230 L903 235 L902 260 L905 290 L908 305 L900 305 L893 300 L888 296 L886 270 L884 240 L870 225 L855 215 L845 205 L835 200 L840 185 L835 170 L845 150 L845 135 L830 115Z" fill="#b5685c" filter="url(#mb5)" opacity="0.95"/>
<path d="M790 93 L808 100 L823 99 L836 102 L850 114 L864 131 L872 150 L869 176 L872 196 L855 199 L843 190 L838 176 L834 160 L830 145 L825 130 L816 119 L806 106 L794 99Z" fill="#c2b07c" stroke="#c2b07c" stroke-width="14" stroke-linejoin="round" filter="url(#mb5)" opacity="0.85"/>
<path d="M790 93 L808 100 L823 99 L836 102 L850 114 L864 131 L872 150 L869 176 L872 196 L855 199 L843 190 L838 176 L834 160 L830 145 L825 130 L816 119 L806 106 L794 99Z" fill="#b5685c" filter="url(#mb5)" opacity="0.95"/>
<ellipse cx="815" cy="150" rx="16" ry="6" transform="rotate(20 815 150)" fill="#b5685c" filter="url(#mb3)" opacity="0.75"/>
<ellipse cx="790" cy="165" rx="12" ry="5" transform="rotate(25 790 165)" fill="#b5685c" filter="url(#mb3)" opacity="0.75"/>
<ellipse cx="820" cy="195" rx="18" ry="6" transform="rotate(-5 820 195)" fill="#b5685c" filter="url(#mb3)" opacity="0.75"/>
<ellipse cx="790" cy="213" rx="22" ry="7" transform="rotate(5 790 213)" fill="#b5685c" filter="url(#mb3)" opacity="0.75"/>
<ellipse cx="800" cy="238" rx="18" ry="6" transform="rotate(15 800 238)" fill="#b5685c" filter="url(#mb3)" opacity="0.75"/>
<ellipse cx="765" cy="236" rx="14" ry="5" transform="rotate(15 765 236)" fill="#b5685c" filter="url(#mb3)" opacity="0.75"/>
<ellipse cx="850" cy="228" rx="12" ry="10" transform="rotate(0 850 228)" fill="#b5685c" filter="url(#mb3)" opacity="0.75"/>
<ellipse cx="880" cy="322" rx="7" ry="13" transform="rotate(25 880 322)" fill="#b5685c" filter="url(#mb3)" opacity="0.75"/>
<ellipse cx="906" cy="320" rx="5" ry="11" transform="rotate(-20 906 320)" fill="#b5685c" filter="url(#mb3)" opacity="0.75"/>
<ellipse cx="862" cy="338" rx="7" ry="7" transform="rotate(0 862 338)" fill="#b5685c" filter="url(#mb3)" opacity="0.75"/>
<ellipse cx="760" cy="130" rx="9" ry="7" transform="rotate(0 760 130)" fill="#b5685c" filter="url(#mb3)" opacity="0.75"/>
<ellipse cx="800" cy="92" rx="14" ry="6" transform="rotate(15 800 92)" fill="#b5685c" filter="url(#mb3)" opacity="0.75"/>
<ellipse cx="732" cy="162" rx="7" ry="13" transform="rotate(-20 732 162)" fill="#aec47a" filter="url(#mb3)" opacity="0.8"/>
<ellipse cx="732" cy="162" rx="4" ry="10" transform="rotate(-20 732 162)" fill="#b5685c" filter="url(#mb3)" opacity="0.7"/>
<ellipse cx="715" cy="189" rx="8" ry="5" transform="rotate(30 715 189)" fill="#aec47a" filter="url(#mb3)" opacity="0.8"/>
<ellipse cx="715" cy="189" rx="5" ry="2" transform="rotate(30 715 189)" fill="#b5685c" filter="url(#mb3)" opacity="0.7"/>
<ellipse cx="703" cy="197" rx="10" ry="7" transform="rotate(0 703 197)" fill="#aec47a" filter="url(#mb3)" opacity="0.8"/>
<ellipse cx="703" cy="197" rx="7" ry="4" transform="rotate(0 703 197)" fill="#b5685c" filter="url(#mb3)" opacity="0.7"/>
<ellipse cx="690" cy="186" rx="5.5" ry="8" transform="rotate(0 690 186)" fill="#aec47a" filter="url(#mb3)" opacity="0.8"/>
<ellipse cx="690" cy="186" rx="2.5" ry="5" transform="rotate(0 690 186)" fill="#b5685c" filter="url(#mb3)" opacity="0.7"/>
<ellipse cx="750" cy="212" rx="8" ry="17" transform="rotate(-10 750 212)" fill="#aec47a" filter="url(#mb3)" opacity="0.8"/>
<ellipse cx="750" cy="212" rx="5" ry="14" transform="rotate(-10 750 212)" fill="#b5685c" filter="url(#mb3)" opacity="0.7"/>
<ellipse cx="746" cy="145" rx="8" ry="11" transform="rotate(20 746 145)" fill="#aec47a" filter="url(#mb3)" opacity="0.8"/>
<ellipse cx="746" cy="145" rx="5" ry="8" transform="rotate(20 746 145)" fill="#b5685c" filter="url(#mb3)" opacity="0.7"/>
<ellipse cx="700" cy="262" rx="8" ry="11" transform="rotate(-30 700 262)" fill="#aec47a" filter="url(#mb3)" opacity="0.8"/>
<ellipse cx="700" cy="262" rx="5" ry="8" transform="rotate(-30 700 262)" fill="#b5685c" filter="url(#mb3)" opacity="0.7"/>
<ellipse cx="730" cy="255" rx="9" ry="6" transform="rotate(30 730 255)" fill="#aec47a" filter="url(#mb3)" opacity="0.8"/>
<ellipse cx="730" cy="255" rx="6" ry="3" transform="rotate(30 730 255)" fill="#b5685c" filter="url(#mb3)" opacity="0.7"/>
<ellipse cx="722" cy="287" rx="11" ry="7" transform="rotate(35 722 287)" fill="#aec47a" filter="url(#mb3)" opacity="0.8"/>
<ellipse cx="722" cy="287" rx="8" ry="4" transform="rotate(35 722 287)" fill="#b5685c" filter="url(#mb3)" opacity="0.7"/>
<path d="M876 163 L886 154 L900 151 L912 157 L917 172 L916 190 L911 205 L898 210 L889 201 L891 187 L883 177Z" fill="#b3b3b3" filter="url(#mb3)"/>
<path d="M876 163 L886 154 L900 151 L912 157 L917 172 L916 190 L911 205 L898 210 L889 201 L891 187 L883 177Z" fill="none" stroke="#aec47a" stroke-width="7" filter="url(#mb3)" opacity="0.8"/>
<path d="M881 166 L890 158 L901 156 L909 161 L913 174 L912 190 L907 201 L899 205 L894 198 L896 186 L888 176Z" fill="#b3b3b3" filter="url(#mb3)"/>
<ellipse cx="786" cy="152" rx="15" ry="6" transform="rotate(15 786 152)" fill="#b3b3b3" filter="url(#mb3)" opacity="0.8"/>
<ellipse cx="818" cy="174" rx="14" ry="5" transform="rotate(10 818 174)" fill="#b3b3b3" filter="url(#mb3)" opacity="0.8"/>
<ellipse cx="775" cy="185" rx="10" ry="6" transform="rotate(0 775 185)" fill="#b3b3b3" filter="url(#mb3)" opacity="0.8"/>
<ellipse cx="930" cy="160" rx="7" ry="10" transform="rotate(0 930 160)" fill="#b3b3b3" filter="url(#mb3)" opacity="0.8"/>
<ellipse cx="850" cy="272" rx="10" ry="14" transform="rotate(-30 850 272)" fill="#b3b3b3" filter="url(#mb3)" opacity="0.8"/>
<ellipse cx="842" cy="246" rx="9" ry="6" transform="rotate(0 842 246)" fill="#b3b3b3" filter="url(#mb3)" opacity="0.8"/>
<path d="M741.0 228.0C742.8 229.3 748.2 232.8 752.0 236.0C755.8 239.2 760.0 243.7 764.0 247.0C768.0 250.3 771.7 253.5 776.0 256.0C780.3 258.5 785.3 260.0 790.0 262.0C794.7 264.0 800.0 265.3 804.0 268.0C808.0 270.7 811.2 274.3 814.0 278.0C816.8 281.7 819.3 286.0 821.0 290.0C822.7 294.0 823.2 298.0 824.0 302.0C824.8 306.0 825.2 310.0 826.0 314.0C826.8 318.0 828.7 322.0 829.0 326.0C829.3 330.0 829.0 334.3 828.0 338.0C827.0 341.7 823.8 344.7 823.0 348.0C822.2 351.3 821.8 355.3 823.0 358.0C824.2 360.7 828.8 363.0 830.0 364.0" fill="none" stroke="#e8e0d0" stroke-width="4" stroke-dasharray="1.5 2.5 1 4" opacity="0.6"/>
<path d="M741.0 228.0C742.8 229.3 748.2 232.8 752.0 236.0C755.8 239.2 760.0 243.7 764.0 247.0C768.0 250.3 771.7 253.5 776.0 256.0C780.3 258.5 785.3 260.0 790.0 262.0C794.7 264.0 800.0 265.3 804.0 268.0C808.0 270.7 811.2 274.3 814.0 278.0C816.8 281.7 819.3 286.0 821.0 290.0C822.7 294.0 823.2 298.0 824.0 302.0C824.8 306.0 825.2 310.0 826.0 314.0C826.8 318.0 828.7 322.0 829.0 326.0C829.3 330.0 829.0 334.3 828.0 338.0C827.0 341.7 823.8 344.7 823.0 348.0C822.2 351.3 821.8 355.3 823.0 358.0C824.2 360.7 828.8 363.0 830.0 364.0" fill="none" stroke="#303030" stroke-width="3.5" stroke-dasharray="1.2 3 2 4.5" stroke-dashoffset="2" opacity="0.55"/>
<path d="M741.0 228.0C742.8 229.3 748.2 232.8 752.0 236.0C755.8 239.2 760.0 243.7 764.0 247.0C768.0 250.3 771.7 253.5 776.0 256.0C780.3 258.5 785.3 260.0 790.0 262.0C794.7 264.0 800.0 265.3 804.0 268.0C808.0 270.7 811.2 274.3 814.0 278.0C816.8 281.7 819.3 286.0 821.0 290.0C822.7 294.0 823.2 298.0 824.0 302.0C824.8 306.0 825.2 310.0 826.0 314.0C826.8 318.0 828.7 322.0 829.0 326.0C829.3 330.0 829.0 334.3 828.0 338.0C827.0 341.7 823.8 344.7 823.0 348.0C822.2 351.3 821.8 355.3 823.0 358.0C824.2 360.7 828.8 363.0 830.0 364.0" fill="none" stroke="#c8585c" stroke-width="3" stroke-dasharray="1.5 5 1 7" stroke-dashoffset="1" opacity="0.6"/>
<path d="M755.2 313.8 L756 302.4 L754 292 L758 280.7 L767.4 281.8 L770.4 273.5 L776.6 268.4 L782.8 271.5 L788 275.6 L785.9 269.4 L782.8 262.2 L779.7 256 L788 260 L798.2 266.3 L806.5 271.5 L812.6 279.7 L818.8 288 L822 296.2 L823 304.4 L819 308.5 L817.5 312" fill="none" stroke="#1a1a1a" stroke-width="1" stroke-linejoin="round"/>
<path d="M689.1 161.3C689.0 162.8 688.7 166.4 688.5 170.0C688.3 173.6 687.6 180.0 687.8 183.0C688.0 186.0 688.9 186.7 689.5 188.0C690.1 189.3 690.7 190.8 691.7 191.0C692.7 191.2 694.2 189.4 695.5 189.0C696.8 188.6 698.5 188.0 699.6 188.4C700.7 188.8 701.1 190.6 702.0 191.5C702.9 192.4 703.5 193.6 704.8 193.7C706.1 193.8 708.2 192.4 710.0 192.0C711.8 191.6 713.5 191.4 715.3 191.0C717.0 190.6 718.8 189.9 720.5 189.5C722.2 189.1 724.0 189.3 725.8 188.4C727.5 187.5 729.3 186.1 731.0 184.0C732.7 181.9 734.3 179.0 736.0 176.0C737.7 173.0 739.8 169.3 741.0 166.0C742.2 162.7 743.0 159.0 743.5 156.0C744.0 153.0 744.7 150.3 744.0 148.0C743.3 145.7 740.2 143.3 739.4 142.4" fill="none" stroke="#1a1a1a" stroke-width="0.9"/>
</g>
<g clip-path="url(#cpLand)"><path d="M614.5 101.5 L615.7 108.9 L619.9 117.3 L626.2 126.7 L634.6 128.8 L641.9 134 L651.4 139.3 L662.9 144.5 L673.4 149.7 L682.8 156 L689.1 161.3 L692.2 159.2 L704.8 156 L717.4 152.9 L730 147.7 L739.4 142.4 L740.5 135.1 L744.7 129.8 L745.7 123.5 L742.6 115.2 L741.5 106.8 L744.7 102.6 L749.9 100.5 L749.9 92.1 L754 86 L758.7 80.9 L763 74 L769 67.3 L775 64 L780.9 62.1 L786 58 L791.1 55.3 L795 56.5 L799.6 60.4 L807 61 L815 60.4 L824 62.5 L832 62.1 L842.2 65.6 L852.4 69 L859.3 75.8 L868 77 L876.3 75.8 L882 73 L888.2 74.1 L890 80 L891.6 86 L895 90 L900.1 91.1 L907 88 L913.8 87.7 L922 89 L930.8 91.1 L938 94 L944.4 97.9 L950 102 L954.6 108.1 L957 115 L956.4 121.8 L954 128 L953 135.4 L956 144 L959.8 152.4 L961.5 162.7 L958 171.2 L959 177 L961.5 183 L968 187 L975 190 L978.5 200.1 L985.3 210.4 L982 217 L981.9 223.9 L988 231 L993.8 237.5 L992.1 244.3 L986 247 L983.6 251.1 L985.3 263 L980 271 L975.1 278.4 L976 285 L975.1 292 L970 296 L964.9 298.8 L958 307 L951.2 315.8 L947 325 L944.4 332.9 L942 340 L939.3 346.5 L932 352 L924 356.7 L917 359.5 L910.4 361.8 L900.1 365.2 L898.4 373.8 L896.7 366.3 L886.5 367 L876.3 370.4 L871.2 373.8 L865 373 L859.3 372 L849 370.4 L838.8 367 L831 365 L825.2 361.8 L820.5 358 L820 353.3 L819 347 L821.8 343.1 L826 340 L828.6 336.3 L830 330 L826.9 326.1 L828 320 L825.2 315.8 L822 312 L820 309 L817.5 312 L812 316 L806.5 316.8 L800 315.5 L794 313.7 L788 312 L781.8 310.6 L775 306.5 L767 308 L760.5 310 L755.2 313.8 L748.7 310.5 L743.4 308.5 L740.8 311.8 L735.6 314.4 L729 313.8 L722.5 311 L713.3 308.5 L704 304.6 L696.2 298.5 L688.4 296.7 L685.5 289 L683 282.3 L680.5 279 L679.8 273 L678.5 269 L677.6 263.5 L679 257 L680 250.8 L679.5 245 L678.6 240.3 L675 240.5 L673.4 242.9 L667 247 L660.3 250.8 L655.5 249 L652.4 245.5 L651 239 L651.1 232.4 L653.5 226 L655 219.3 L657.5 214 L659 208.8 L661.5 205 L662.9 201 L660.8 196.9 L657.7 190.6 L660.5 188 L662.9 186.4 L665 180.1 L659.7 177 L654.5 176 L648.2 178 L641.9 173.9 L636.7 170.7 L634.6 163.4 L639 160.5 L644 159.2 L640.9 155 L633.5 149.7 L626.2 145.6 L621 139.3 L616.8 131.9 L613.6 123.5 L612.6 113.1 L613.6 102.6Z" fill="none" stroke="#2a2a2a" stroke-width="6" stroke-dasharray="1 2.5 2 3.5 1 4" opacity="0.3"/><path d="M614.5 101.5 L615.7 108.9 L619.9 117.3 L626.2 126.7 L634.6 128.8 L641.9 134 L651.4 139.3 L662.9 144.5 L673.4 149.7 L682.8 156 L689.1 161.3 L692.2 159.2 L704.8 156 L717.4 152.9 L730 147.7 L739.4 142.4 L740.5 135.1 L744.7 129.8 L745.7 123.5 L742.6 115.2 L741.5 106.8 L744.7 102.6 L749.9 100.5 L749.9 92.1 L754 86 L758.7 80.9 L763 74 L769 67.3 L775 64 L780.9 62.1 L786 58 L791.1 55.3 L795 56.5 L799.6 60.4 L807 61 L815 60.4 L824 62.5 L832 62.1 L842.2 65.6 L852.4 69 L859.3 75.8 L868 77 L876.3 75.8 L882 73 L888.2 74.1 L890 80 L891.6 86 L895 90 L900.1 91.1 L907 88 L913.8 87.7 L922 89 L930.8 91.1 L938 94 L944.4 97.9 L950 102 L954.6 108.1 L957 115 L956.4 121.8 L954 128 L953 135.4 L956 144 L959.8 152.4 L961.5 162.7 L958 171.2 L959 177 L961.5 183 L968 187 L975 190 L978.5 200.1 L985.3 210.4 L982 217 L981.9 223.9 L988 231 L993.8 237.5 L992.1 244.3 L986 247 L983.6 251.1 L985.3 263 L980 271 L975.1 278.4 L976 285 L975.1 292 L970 296 L964.9 298.8 L958 307 L951.2 315.8 L947 325 L944.4 332.9 L942 340 L939.3 346.5 L932 352 L924 356.7 L917 359.5 L910.4 361.8 L900.1 365.2 L898.4 373.8 L896.7 366.3 L886.5 367 L876.3 370.4 L871.2 373.8 L865 373 L859.3 372 L849 370.4 L838.8 367 L831 365 L825.2 361.8 L820.5 358 L820 353.3 L819 347 L821.8 343.1 L826 340 L828.6 336.3 L830 330 L826.9 326.1 L828 320 L825.2 315.8 L822 312 L820 309 L817.5 312 L812 316 L806.5 316.8 L800 315.5 L794 313.7 L788 312 L781.8 310.6 L775 306.5 L767 308 L760.5 310 L755.2 313.8 L748.7 310.5 L743.4 308.5 L740.8 311.8 L735.6 314.4 L729 313.8 L722.5 311 L713.3 308.5 L704 304.6 L696.2 298.5 L688.4 296.7 L685.5 289 L683 282.3 L680.5 279 L679.8 273 L678.5 269 L677.6 263.5 L679 257 L680 250.8 L679.5 245 L678.6 240.3 L675 240.5 L673.4 242.9 L667 247 L660.3 250.8 L655.5 249 L652.4 245.5 L651 239 L651.1 232.4 L653.5 226 L655 219.3 L657.5 214 L659 208.8 L661.5 205 L662.9 201 L660.8 196.9 L657.7 190.6 L660.5 188 L662.9 186.4 L665 180.1 L659.7 177 L654.5 176 L648.2 178 L641.9 173.9 L636.7 170.7 L634.6 163.4 L639 160.5 L644 159.2 L640.9 155 L633.5 149.7 L626.2 145.6 L621 139.3 L616.8 131.9 L613.6 123.5 L612.6 113.1 L613.6 102.6Z" fill="none" stroke="#ffffff" stroke-width="5" stroke-dasharray="1.5 4 1 3" stroke-dashoffset="2" opacity="0.4"/></g>
<g clip-path="url(#cpLand)"><g opacity="0.45" fill="none" stroke="#777">
<circle cx="796.4" cy="219.6" r="201.5" stroke-width="0.9"/>
<circle cx="796.4" cy="219.6" r="118.4" stroke-width="0.9"/>
<circle cx="796.4" cy="219.6" r="40" stroke-width="0.9"/>
<path d="M796.4 219.6L796.4 12.1M816.4 185.0L898.6 42.5M831.0 199.6L973.5 117.3M796.4 219.6L1003.9 219.6M831.0 239.6L973.5 321.8M816.4 254.2L898.6 396.7M796.4 219.6L796.4 427.1M776.4 254.2L694.1 396.7M761.8 239.6L619.3 321.9M796.4 219.6L588.9 219.6M761.8 199.6L619.3 117.3M776.4 185.0L694.1 42.5" stroke-width="1" stroke-dasharray="7 5" stroke="#a4a4a4"/>
</g>
</g>
<path d="M614.6 101.5 L615.5 103.9 L615.0 106.5 L616.0 108.8 L616.7 111.0 L618.0 113.0 L619.6 114.8 L619.9 117.3 L621.9 118.7 L622.5 121.0 L624.3 122.5 L625.6 124.4 L626.2 126.6 L628.9 128.0 L632.0 127.4 L634.7 128.6 L636.3 130.3 L637.8 132.1 L640.0 132.8 L641.9 133.9 L643.9 136.1 L647.0 135.9 L648.7 138.5 L651.5 139.2 L654.0 139.8 L656.3 140.8 L658.4 142.1 L660.4 144.0 L663.0 144.3 L664.9 145.7 L667.0 146.8 L669.3 147.4 L671.3 148.7 L673.6 149.4 L675.7 150.3 L677.5 151.8 L678.9 153.7 L681.0 154.6 L682.9 155.9 L684.8 157.9 L687.1 159.5 L689.0 161.2 L692.3 159.4 L694.8 158.9 L697.1 157.5 L699.8 157.4 L702.3 156.7 L704.9 156.3 L707.4 155.8 L709.7 154.4 L712.6 155.0 L714.7 152.9 L717.4 152.8 L719.7 152.5 L721.4 150.6 L723.7 150.3 L725.5 148.7 L728.0 148.8 L730.1 147.9 L732.4 146.5 L735.0 145.6 L736.9 143.4 L739.5 142.4 L739.9 140.0 L740.3 137.6 L740.5 135.1 L742.4 133.7 L743.9 132.1 L744.7 129.8 L745.5 126.7 L745.4 123.6 L745.3 121.3 L744.4 119.3 L744.2 117.0 L742.8 115.2 L741.8 112.5 L741.7 109.6 L741.6 106.9 L742.4 104.2 L744.7 102.6 L747.1 101.0 L749.6 100.5 L749.1 97.7 L750.4 94.9 L749.7 92.0 L750.9 89.8 L752.5 87.9 L754.2 86.2 L755.0 83.8 L757.1 82.5 L758.7 80.9 L760.7 79.0 L762.1 76.6 L763.2 74.2 L764.2 72.1 L765.9 70.5 L767.3 68.8 L769.1 67.5 L771.4 66.9 L772.7 64.5 L774.9 63.8 L777.8 62.6 L780.8 62.0 L783.4 60.0 L786.0 58.1 L788.4 56.3 L791.2 55.0 L795.0 56.5 L797.5 58.3 L799.6 60.4 L802.0 61.4 L804.5 61.1 L807.0 61.0 L809.7 61.0 L812.4 60.9 L815.1 60.1 L817.1 61.6 L819.4 61.9 L821.6 62.6 L824.0 62.7 L826.7 62.2 L829.3 62.1 L832.1 61.8 L834.5 63.2 L837.4 63.1 L839.9 64.0 L842.3 65.4 L844.9 65.9 L847.4 67.0 L850.1 67.4 L852.7 68.7 L854.6 70.3 L856.4 71.9 L857.7 73.9 L859.3 75.5 L862.1 76.9 L865.1 76.8 L868.0 76.7 L870.7 76.2 L873.5 75.9 L876.3 75.7 L878.9 73.8 L882.0 73.2 L884.9 74.4 L888.2 74.1 L889.1 77.0 L890.3 79.9 L891.5 82.8 L891.7 85.9 L893.6 87.7 L895.0 90.2 L897.7 90.0 L900.0 90.8 L902.7 90.8 L904.7 89.1 L907.0 87.7 L909.3 88.0 L911.5 86.9 L913.8 87.7 L916.4 89.0 L919.2 89.2 L922.0 89.1 L924.3 89.1 L926.5 89.8 L928.7 90.0 L930.7 91.3 L933.2 92.1 L935.4 93.5 L938.1 93.9 L940.4 94.9 L942.0 97.1 L944.2 98.2 L945.9 99.8 L947.8 101.1 L949.8 102.1 L951.2 104.3 L953.5 105.8 L954.6 108.1 L955.6 110.3 L957.0 112.4 L957.3 115.0 L957.2 117.3 L957.0 119.6 L956.3 121.7 L954.8 123.6 L954.9 126.0 L953.7 128.0 L952.8 130.3 L952.5 132.8 L953.1 135.4 L954.2 137.4 L955.0 139.5 L955.8 141.7 L956.2 143.9 L956.7 146.2 L957.2 148.5 L958.3 150.6 L959.8 152.4 L960.0 155.0 L960.1 157.6 L961.8 160.0 L961.4 162.7 L959.9 164.5 L959.3 166.8 L958.5 168.9 L958.0 171.2 L959.1 174.0 L958.8 177.1 L960.5 179.9 L961.4 183.2 L963.2 185.1 L965.9 185.5 L968.0 186.9 L970.0 188.7 L972.5 189.4 L975.2 189.9 L976.5 192.3 L977.3 194.8 L976.9 197.8 L978.3 200.2 L980.4 201.8 L980.7 204.5 L981.9 206.8 L983.7 208.5 L985.4 210.4 L984.1 212.6 L983.7 215.1 L982.3 217.0 L981.1 219.3 L981.7 221.6 L981.9 223.9 L982.8 226.2 L985.0 227.4 L986.0 229.7 L987.8 231.2 L990.3 232.8 L992.2 235.0 L993.9 237.5 L993.7 239.9 L992.5 242.0 L992.2 244.5 L990.1 245.3 L988.3 246.7 L985.7 246.9 L985.0 249.2 L983.6 251.1 L983.8 253.5 L983.6 256.0 L984.8 258.2 L984.2 260.7 L985.3 263.0 L983.9 265.0 L982.6 267.0 L982.0 269.5 L980.0 271.0 L979.3 273.2 L978.3 275.2 L975.9 276.3 L975.3 278.4 L975.4 280.6 L975.3 282.9 L976.0 285.0 L976.0 287.4 L975.4 289.7 L975.1 292.0 L972.2 293.6 L970.1 296.2 L967.4 297.3 L965.0 298.9 L963.5 301.1 L961.1 302.6 L959.7 304.9 L958.0 307.0 L956.3 308.5 L954.7 310.1 L954.0 312.3 L952.4 313.9 L951.2 315.8 L950.1 318.1 L948.8 320.3 L948.1 322.7 L947.0 325.0 L946.2 327.6 L944.5 330.0 L944.3 332.9 L943.0 335.0 L942.0 337.4 L942.2 340.1 L941.0 342.1 L939.5 344.0 L939.2 346.3 L937.9 348.4 L936.1 349.8 L933.9 350.7 L932.2 352.3 L930.2 353.6 L928.4 355.0 L925.8 355.3 L923.9 356.5 L921.4 357.0 L919.6 359.1 L916.9 359.4 L914.7 360.0 L912.8 361.6 L910.3 361.5 L907.6 361.9 L905.4 364.0 L902.4 363.6 L900.2 365.2 L899.6 368.1 L898.1 370.8 L898.6 373.7 L897.2 371.4 L897.1 368.8 L896.7 366.3 L894.2 366.8 L891.6 367.2 L889.1 367.2 L886.4 366.8 L884.2 368.7 L881.4 368.6 L878.9 369.7 L876.5 370.7 L873.9 372.4 L871.2 373.7 L868.1 373.4 L864.9 373.3 L862.3 371.6 L859.3 371.8 L856.9 370.8 L854.0 371.9 L851.5 371.2 L848.9 370.7 L846.6 369.1 L843.8 369.1 L841.1 368.5 L838.8 367.1 L836.4 365.6 L833.7 365.1 L830.9 365.2 L828.8 364.5 L827.5 362.2 L825.2 361.8 L823.1 359.6 L820.2 358.0 L819.5 355.7 L820.1 353.3 L819.4 350.2 L818.7 346.8 L821.0 345.5 L821.9 343.2 L824.2 342.0 L825.8 339.8 L827.8 338.5 L828.3 336.2 L829.9 333.3 L830.0 330.0 L828.2 328.2 L826.9 326.1 L828.2 323.2 L827.9 320.1 L826.0 318.3 L825.2 315.8 L823.2 314.2 L821.8 312.2 L820.2 309.2 L817.7 312.3 L816.0 313.8 L814.0 314.9 L812.0 316.1 L809.2 315.9 L806.5 316.9 L804.3 316.4 L802.1 316.5 L800.0 315.6 L796.8 315.4 L794.0 313.9 L790.8 313.7 L788.0 311.8 L784.9 311.2 L781.7 310.8 L779.5 309.3 L777.7 307.2 L775.1 306.8 L772.2 306.4 L769.7 307.6 L767.0 308.0 L764.7 308.1 L762.7 309.5 L760.5 310.0 L757.7 311.6 L755.4 313.5 L752.9 313.0 L751.1 311.1 L748.8 310.4 L746.1 309.3 L743.5 308.5 L740.8 311.9 L738.6 313.8 L735.6 314.7 L733.3 315.0 L731.2 313.6 L728.9 314.0 L726.6 313.4 L724.4 312.6 L722.6 310.8 L720.4 309.7 L718.0 309.5 L715.5 309.5 L713.2 308.7 L710.8 307.9 L708.6 306.6 L706.1 306.1 L704.0 304.6 L701.8 303.4 L700.6 300.9 L698.7 299.4 L696.2 298.5 L693.5 298.3 L691.2 296.5 L688.3 296.7 L687.2 294.2 L685.6 291.9 L685.4 289.0 L684.6 286.8 L683.8 284.5 L682.8 282.4 L680.5 279.0 L679.3 276.1 L679.6 273.1 L678.2 269.0 L677.9 266.3 L677.3 263.4 L677.2 261.2 L678.2 259.1 L678.8 257.0 L679.7 253.9 L680.0 250.8 L680.2 247.9 L679.6 245.0 L679.4 242.6 L678.6 240.0 L675.1 240.5 L673.5 243.0 L670.8 243.5 L669.5 246.2 L666.9 246.9 L664.6 248.0 L662.9 250.2 L660.4 250.6 L658.1 249.2 L655.6 248.9 L654.3 247.0 L652.6 245.5 L651.3 243.5 L651.5 241.2 L651.0 239.0 L651.6 236.8 L651.6 234.6 L651.3 232.5 L652.0 230.3 L653.4 228.4 L653.6 226.0 L654.3 223.8 L654.0 221.4 L654.7 219.2 L655.7 216.4 L657.4 214.0 L657.6 211.2 L659.2 208.9 L660.3 207.0 L661.6 205.0 L663.0 201.0 L662.1 198.8 L660.8 196.9 L659.0 195.2 L659.2 192.5 L657.8 190.7 L660.5 188.0 L662.9 186.4 L663.9 184.4 L663.6 182.0 L665.1 180.0 L662.1 178.9 L659.6 177.3 L657.0 176.9 L654.5 175.8 L652.6 177.2 L650.2 176.9 L648.4 177.7 L646.1 176.6 L643.9 175.4 L641.9 173.9 L639.5 172.0 L636.9 170.6 L636.2 168.2 L635.5 165.8 L634.4 163.1 L636.5 161.4 L639.0 160.3 L641.6 160.3 L643.9 159.3 L642.5 157.0 L640.7 155.3 L638.6 154.3 L637.0 152.7 L635.5 150.8 L633.6 149.6 L631.2 148.1 L628.4 147.3 L626.2 145.6 L624.4 143.5 L622.7 141.4 L620.8 139.4 L620.2 136.5 L617.7 134.6 L617.1 131.8 L616.7 129.5 L614.4 128.0 L614.3 125.6 L613.8 123.5 L614.2 120.8 L613.0 118.3 L612.4 115.7 L612.4 113.1 L613.6 110.6 L612.6 107.8 L613.5 105.2 L613.4 102.4Z" fill="none" stroke="#151515" stroke-width="1.3" stroke-linejoin="round"/>
<path d="M643.0 159.5C644.0 160.0 647.0 161.4 649.0 162.5C651.0 163.6 653.0 164.8 655.0 166.0C657.0 167.2 659.2 168.2 661.0 169.5C662.8 170.8 665.0 172.3 666.0 174.0C667.0 175.7 667.3 177.8 667.0 179.5C666.7 181.2 664.5 183.2 664.0 184.0" fill="none" stroke="#151515" stroke-width="3.4" stroke-linecap="round"/>
<path d="M643.0 159.5C644.0 160.0 647.0 161.4 649.0 162.5C651.0 163.6 653.0 164.8 655.0 166.0C657.0 167.2 659.2 168.2 661.0 169.5C662.8 170.8 665.0 172.3 666.0 174.0C667.0 175.7 667.3 177.8 667.0 179.5C666.7 181.2 664.5 183.2 664.0 184.0" fill="none" stroke="#ffffff" stroke-width="1.6" stroke-linecap="round"/>
<path d="M743.4 139.5C743.6 138.6 743.9 135.5 744.5 134.0C745.1 132.5 745.9 131.5 746.8 130.3C747.7 129.1 748.9 127.8 750.0 127.0C751.1 126.2 752.4 125.6 753.6 125.2C754.8 124.8 755.9 124.6 757.0 124.5C758.1 124.4 759.8 124.5 760.4 124.5" fill="none" stroke="#f0401a" stroke-width="1.9" stroke-linecap="round" stroke-linejoin="round"/>
<path d="M789.4 91.1C789.9 91.8 791.4 93.9 792.5 95.0C793.6 96.1 794.6 97.1 796.2 97.9C797.8 98.7 800.0 99.1 802.0 99.6C804.0 100.0 805.8 100.4 808.1 100.6C810.4 100.8 813.4 100.9 816.0 101.0C818.6 101.1 821.2 100.8 823.5 101.3C825.8 101.8 828.0 102.9 830.0 104.0C832.0 105.1 833.6 106.6 835.4 108.1C837.1 109.6 838.8 111.3 840.5 113.0C842.2 114.7 844.0 116.6 845.6 118.4C847.2 120.2 848.6 122.0 850.0 124.0C851.4 126.0 852.9 128.6 854.1 130.3C855.4 132.1 856.4 133.1 857.5 134.5C858.6 135.9 860.4 138.1 861.0 138.8" fill="none" stroke="#f0401a" stroke-width="1.9" stroke-linecap="round" stroke-linejoin="round"/>
<path d="M861.0 138.8C862.2 138.5 865.5 137.6 868.0 137.0C870.5 136.4 873.5 136.0 876.3 135.4C879.1 134.8 882.2 134.1 885.0 133.5C887.8 132.9 890.5 132.4 893.3 132.0C896.1 131.6 899.1 131.1 902.0 130.8C904.9 130.5 907.8 130.3 910.4 130.3C913.0 130.3 915.2 130.5 917.5 130.8C919.8 131.1 922.2 131.3 924.0 132.0C925.8 132.7 927.1 133.9 928.5 135.0C929.9 136.1 931.8 138.2 932.5 138.8" fill="none" stroke="#f0401a" stroke-width="1.9" stroke-linecap="round" stroke-linejoin="round"/>
<path d="M932.5 138.8C933.5 139.3 936.5 140.9 938.5 142.0C940.5 143.1 942.5 144.3 944.4 145.6C946.3 146.8 948.3 148.1 950.0 149.5C951.7 150.9 953.3 152.5 954.6 154.1C955.9 155.7 957.4 158.3 958.0 159.2" fill="none" stroke="#3a4cf4" stroke-width="1.9" stroke-linecap="round" stroke-linejoin="round"/>
<path d="M861.0 138.8C860.6 139.7 859.4 142.3 858.8 144.0C858.2 145.7 857.9 146.8 857.5 149.0C857.1 151.2 856.6 154.2 856.3 157.0C856.0 159.8 855.8 163.0 855.8 166.0C855.8 169.0 855.9 172.2 856.2 175.0C856.5 177.8 857.0 180.5 857.5 183.1C858.0 185.7 858.4 188.1 859.0 190.5C859.6 192.9 860.0 195.7 861.0 197.4C862.0 199.1 863.6 199.8 865.0 200.8C866.4 201.8 868.2 202.3 869.5 203.5C870.8 204.7 871.9 206.3 873.0 208.0C874.1 209.7 875.0 212.1 876.3 213.8C877.6 215.6 879.3 217.1 881.0 218.5C882.7 219.9 884.5 221.0 886.5 222.1C888.5 223.2 890.7 224.2 893.0 225.0C895.3 225.8 897.4 226.3 900.1 226.6C902.8 226.9 906.1 226.8 909.0 226.6C911.9 226.4 915.8 225.8 917.2 225.6" fill="none" stroke="#f0401a" stroke-width="1.9" stroke-linecap="round" stroke-linejoin="round"/>
<path d="M770.7 69.0C771.0 69.8 771.6 72.1 772.5 73.5C773.4 74.9 774.5 76.2 775.8 77.5C777.0 78.8 778.6 79.9 780.0 81.0C781.4 82.1 783.1 83.2 784.3 84.3C785.5 85.4 786.1 86.4 787.0 87.5C787.9 88.6 789.0 90.5 789.4 91.1" fill="none" stroke="#3a4cf4" stroke-width="1.9" stroke-linecap="round" stroke-linejoin="round"/>
<path d="M799.6 69.0C799.9 69.8 800.6 72.1 801.5 73.5C802.4 74.9 803.5 76.2 804.7 77.5C806.0 78.8 807.6 79.9 809.0 81.0C810.4 82.1 812.0 83.0 813.3 84.3C814.6 85.6 815.9 87.3 817.0 89.0C818.1 90.7 819.2 93.0 820.0 94.5C820.8 96.0 821.4 96.9 822.0 98.0C822.6 99.1 823.2 100.8 823.5 101.3" fill="none" stroke="#3a4cf4" stroke-width="1.9" stroke-linecap="round" stroke-linejoin="round"/>
<path d="M796.2 98.6C795.2 99.5 792.5 102.1 790.5 104.0C788.5 105.9 786.0 108.1 784.3 109.8C782.5 111.5 781.4 112.6 780.0 114.0C778.6 115.4 777.1 117.1 775.8 118.4C774.5 119.7 773.3 120.8 772.0 122.0C770.7 123.2 768.7 124.9 768.0 125.5" fill="none" stroke="#3a4cf4" stroke-width="1.9" stroke-linecap="round" stroke-linejoin="round"/>
<path d="M888.2 75.8C888.3 76.7 888.8 79.3 888.8 81.0C888.8 82.7 888.7 84.2 888.2 86.0C887.7 87.8 886.9 90.0 886.0 92.0C885.1 94.0 883.9 95.7 883.1 97.9C882.3 100.1 881.6 102.7 881.0 105.0C880.4 107.3 880.3 109.3 879.7 111.6C879.1 113.8 878.4 116.2 877.5 118.5C876.6 120.8 876.2 123.0 874.6 125.2C873.0 127.5 870.3 129.7 868.0 132.0C865.7 134.3 862.2 137.7 861.0 138.8" fill="none" stroke="#3a4cf4" stroke-width="1.9" stroke-linecap="round" stroke-linejoin="round"/>
<path d="M861.0 197.4C859.4 197.4 854.6 197.2 851.5 197.2C848.4 197.2 845.2 197.2 842.2 197.4C839.2 197.6 836.3 198.3 833.5 198.6C830.7 198.9 828.0 199.2 825.2 199.4C822.4 199.6 819.4 199.9 816.5 200.0C813.6 200.1 810.9 200.1 808.1 200.1C805.3 200.1 802.3 200.0 799.5 199.9C796.7 199.8 793.9 199.6 791.1 199.4C788.3 199.2 785.3 198.9 782.5 198.6C779.7 198.3 776.7 197.8 774.1 197.4C771.5 197.1 769.3 196.9 767.0 196.5C764.7 196.1 762.3 195.8 760.4 195.0C758.5 194.2 756.9 192.9 755.5 191.5C754.1 190.1 752.9 188.2 751.9 186.5C750.9 184.8 749.9 183.2 749.2 181.5C748.5 179.8 747.8 177.2 747.5 176.3" fill="none" stroke="#3a4cf4" stroke-width="1.9" stroke-linecap="round" stroke-linejoin="round"/>
<path d="M861.0 197.4C860.0 197.6 857.0 198.1 855.0 198.5C853.0 198.9 851.2 199.2 849.0 200.0C846.8 200.8 844.3 202.1 842.0 203.3C839.7 204.5 837.4 205.7 835.4 207.0C833.4 208.3 831.7 209.8 830.0 211.2C828.3 212.6 826.9 214.0 825.2 215.5C823.5 217.0 821.7 218.6 820.0 220.0C818.3 221.4 817.3 222.5 815.0 223.9C812.7 225.3 808.9 227.4 806.0 228.5C803.1 229.6 800.4 230.6 797.9 230.7C795.4 230.8 793.3 229.6 791.0 229.0C788.7 228.4 786.9 227.6 784.3 227.3C781.7 227.0 778.3 227.1 775.5 227.0C772.7 226.9 768.7 226.7 767.3 226.6" fill="none" stroke="#3a4cf4" stroke-width="1.9" stroke-linecap="round" stroke-linejoin="round"/>
<path d="M767.3 226.6C766.2 226.4 762.4 225.7 760.5 225.3C758.6 225.0 757.3 224.2 756.0 224.5C754.7 224.8 753.8 226.5 752.5 226.8C751.2 227.1 749.9 226.4 748.5 226.2C747.1 226.0 745.8 225.5 744.0 225.6C742.2 225.7 739.0 226.3 738.0 226.5" fill="none" stroke="#f0401a" stroke-width="1.9" stroke-linecap="round" stroke-linejoin="round"/>
<path d="M784.3 227.3C783.8 228.2 782.4 231.0 781.5 233.0C780.6 235.0 779.5 237.4 779.2 239.2C778.9 240.9 779.3 242.1 779.5 243.5C779.7 244.9 780.1 247.0 780.2 247.7" fill="none" stroke="#3a4cf4" stroke-width="1.9" stroke-linecap="round" stroke-linejoin="round"/>
<path d="M738.0 226.5C736.8 226.9 732.8 228.7 730.5 229.0C728.2 229.3 726.1 229.0 724.0 228.5C721.9 228.0 719.0 226.4 718.0 226.0" fill="none" stroke="#f0401a" stroke-width="1.9" stroke-linecap="round" stroke-linejoin="round"/>
<path d="M718.0 226.0C717.2 225.3 715.0 223.2 713.5 222.0C712.0 220.8 710.6 219.2 709.0 218.5C707.4 217.8 705.7 217.2 704.0 217.5C702.3 217.8 700.6 219.2 699.0 220.0C697.4 220.8 696.0 222.3 694.5 222.5C693.0 222.7 691.3 222.0 690.0 221.0C688.7 220.0 687.6 217.8 686.5 216.5C685.4 215.2 684.0 214.0 683.5 213.5" fill="none" stroke="#3a4cf4" stroke-width="1.9" stroke-linecap="round" stroke-linejoin="round"/>
<path d="M683.5 213.5C682.8 213.3 680.9 212.7 679.5 212.5C678.1 212.3 675.9 213.4 675.2 212.3C674.6 211.2 675.6 208.2 675.6 206.0C675.6 203.8 675.7 200.9 675.5 199.0C675.3 197.1 674.3 196.5 674.4 194.8C674.5 193.1 675.3 190.8 676.0 189.0C676.7 187.2 677.7 185.8 678.6 184.3C679.5 182.8 680.8 181.4 681.5 180.0C682.2 178.6 682.6 177.5 682.8 176.0C683.0 174.5 683.0 172.4 682.8 171.0C682.6 169.6 682.3 168.8 681.8 167.6C681.2 166.4 680.4 165.1 679.5 164.0C678.6 162.9 677.6 162.2 676.5 161.3C675.4 160.4 674.2 159.4 673.0 158.5C671.8 157.6 670.5 156.8 669.2 156.0C667.9 155.2 666.4 154.3 665.0 153.6C663.6 152.9 662.1 152.3 660.8 151.8C659.5 151.3 658.2 150.8 657.0 150.4C655.8 150.1 654.1 149.8 653.5 149.7" fill="none" stroke="#f0401a" stroke-width="1.9" stroke-linecap="round" stroke-linejoin="round"/>
<path d="M675.2 212.3C674.5 213.1 672.1 215.2 671.0 217.0C669.9 218.8 668.9 220.8 668.5 223.0C668.1 225.2 668.2 227.8 668.8 230.0C669.4 232.2 671.2 234.2 672.0 236.0C672.8 237.8 673.5 239.4 673.8 241.0C674.0 242.6 673.5 244.8 673.5 245.5" fill="none" stroke="#f0401a" stroke-width="1.9" stroke-linecap="round" stroke-linejoin="round"/>
<path d="M644.0 158.1C644.6 157.7 646.5 156.7 647.5 155.8C648.5 154.9 649.5 154.0 650.3 152.9C651.1 151.8 651.7 150.7 652.2 149.5C652.7 148.3 653.3 146.2 653.5 145.6" fill="none" stroke="#3a4cf4" stroke-width="1.9" stroke-linecap="round" stroke-linejoin="round"/>
<path d="M680.7 162.3C681.2 162.1 683.0 161.3 684.0 161.0C685.0 160.7 686.5 160.3 687.0 160.2" fill="none" stroke="#3a4cf4" stroke-width="1.9" stroke-linecap="round" stroke-linejoin="round"/>
<path d="M662.9 193.8C663.4 194.0 665.0 194.8 666.0 195.2C667.0 195.5 668.2 195.8 669.2 195.9C670.2 196.0 671.1 195.8 672.0 195.6C672.9 195.4 674.0 194.9 674.4 194.8" fill="none" stroke="#3a4cf4" stroke-width="1.9" stroke-linecap="round" stroke-linejoin="round"/>
<path d="M718.0 226.0C718.2 226.8 719.7 229.0 719.5 231.0C719.3 233.0 717.7 235.7 717.0 238.0C716.3 240.3 715.6 243.5 715.5 245.0C715.4 246.5 716.3 246.7 716.5 247.0" fill="none" stroke="#3a4cf4" stroke-width="1.9" stroke-linecap="round" stroke-linejoin="round"/>
<path d="M716.5 247.0C716.3 248.2 716.1 251.5 715.5 254.0C714.9 256.5 713.8 259.3 713.0 262.0C712.2 264.7 711.2 267.3 710.5 270.0C709.8 272.7 709.2 276.7 709.0 278.0" fill="none" stroke="#f0401a" stroke-width="1.9" stroke-linecap="round" stroke-linejoin="round"/>
<path d="M709.0 278.0C708.0 277.2 705.2 274.8 703.0 273.5C700.8 272.2 698.5 271.2 696.0 270.5C693.5 269.8 690.7 269.4 688.0 269.5C685.3 269.6 681.3 270.8 680.0 271.0" fill="none" stroke="#3a4cf4" stroke-width="1.9" stroke-linecap="round" stroke-linejoin="round"/>
<path d="M709.0 278.0C709.8 279.0 712.2 282.0 714.0 284.0C715.8 286.0 717.8 287.8 720.0 290.0C722.2 292.2 724.7 294.7 727.0 297.0C729.3 299.3 731.8 301.7 734.0 304.0C736.2 306.3 739.0 309.8 740.0 311.0" fill="none" stroke="#f0401a" stroke-width="1.9" stroke-linecap="round" stroke-linejoin="round"/>
<path d="M892.3 226.6C892.4 228.0 892.8 232.1 893.0 235.0C893.2 237.9 893.2 241.1 893.3 244.3C893.4 247.5 893.6 250.6 893.7 254.0C893.8 257.4 893.8 261.2 894.0 264.7C894.2 268.2 894.7 271.9 895.0 275.0C895.3 278.1 895.5 281.5 896.0 283.5C896.5 285.5 897.5 286.3 897.8 286.9" fill="none" stroke="#f0401a" stroke-width="1.9" stroke-linecap="round" stroke-linejoin="round"/>
<path d="M917.2 225.6C917.9 224.9 920.1 222.9 921.5 221.5C922.9 220.1 924.1 218.8 925.7 217.0C927.3 215.2 929.3 212.8 931.0 210.5C932.7 208.2 934.4 206.0 935.9 203.4C937.4 200.8 938.9 197.6 940.0 195.0C941.1 192.4 942.0 190.3 942.7 188.0C943.4 185.7 943.7 182.9 944.0 181.0C944.3 179.1 944.3 177.1 944.4 176.3" fill="none" stroke="#3a4cf4" stroke-width="1.9" stroke-linecap="round" stroke-linejoin="round"/>
<path d="M917.2 225.6C917.9 226.2 920.1 228.1 921.5 229.5C922.9 230.9 924.0 232.2 925.7 234.1C927.4 236.0 929.5 238.7 931.5 241.0C933.5 243.3 935.8 245.8 937.6 247.7C939.4 249.6 940.8 251.1 942.5 252.5C944.2 253.9 945.2 254.9 947.8 256.2C950.4 257.5 954.6 259.4 958.0 260.5C961.4 261.6 965.3 262.7 968.3 263.0C971.3 263.3 973.5 262.8 976.0 262.5C978.5 262.2 982.3 261.5 983.6 261.3" fill="none" stroke="#3a4cf4" stroke-width="1.9" stroke-linecap="round" stroke-linejoin="round"/>
<path d="M897.8 286.9C898.2 287.3 899.3 288.6 900.0 289.5C900.7 290.4 901.4 290.2 901.8 292.0C902.2 293.8 902.2 297.2 902.5 300.0C902.8 302.8 903.3 307.5 903.5 309.0" fill="none" stroke="#f0401a" stroke-width="1.9" stroke-linecap="round" stroke-linejoin="round"/>
<path d="M903.5 309.0C904.0 310.5 905.4 315.1 906.5 318.0C907.6 320.9 909.0 323.9 910.4 326.1C911.8 328.4 913.3 329.8 915.0 331.5C916.7 333.2 918.2 334.8 920.6 336.3C923.0 337.8 926.4 339.2 929.5 340.3C932.6 341.4 937.7 342.6 939.3 343.1" fill="none" stroke="#3a4cf4" stroke-width="1.9" stroke-linecap="round" stroke-linejoin="round"/>
<path d="M897.8 286.9C897.4 287.8 896.2 290.3 895.5 292.0C894.8 293.7 894.1 295.3 893.5 297.0C892.9 298.7 891.9 301.3 891.6 302.2" fill="none" stroke="#f0401a" stroke-width="1.9" stroke-linecap="round" stroke-linejoin="round"/>
<path d="M891.6 302.2C890.2 302.6 886.0 303.7 883.5 304.8C881.0 305.9 878.4 307.5 876.3 309.0C874.2 310.5 872.7 312.3 871.0 314.0C869.3 315.7 867.7 317.5 866.1 319.3C864.5 321.1 862.9 323.0 861.5 325.0C860.1 327.0 858.2 330.2 857.5 331.2" fill="none" stroke="#3a4cf4" stroke-width="1.9" stroke-linecap="round" stroke-linejoin="round"/>
<path d="M857.5 331.2C856.7 332.2 854.2 335.2 852.5 337.5C850.8 339.8 848.2 343.6 847.3 344.8" fill="none" stroke="#f0401a" stroke-width="1.9" stroke-linecap="round" stroke-linejoin="round"/>
<path d="M847.3 344.8C847.9 346.0 849.6 349.7 851.0 352.0C852.4 354.3 853.8 356.1 855.8 358.4C857.8 360.6 860.4 363.2 863.0 365.5C865.6 367.8 869.8 370.9 871.2 372.0" fill="none" stroke="#3a4cf4" stroke-width="1.9" stroke-linecap="round" stroke-linejoin="round"/>
<path d="M897.8 286.9C896.8 287.4 894.2 288.3 892.0 290.0C889.8 291.7 887.3 295.5 884.8 297.1C882.3 298.7 879.5 298.9 877.0 299.5C874.5 300.1 872.3 299.8 869.5 300.5C866.7 301.2 863.1 302.4 860.0 303.5C856.9 304.6 852.2 306.7 850.7 307.3" fill="none" stroke="#3a4cf4" stroke-width="1.9" stroke-linecap="round" stroke-linejoin="round"/>
<path d="M850.7 307.3C849.7 307.5 846.5 308.4 844.5 308.7C842.5 309.0 840.9 309.1 838.8 309.0C836.7 308.9 834.3 308.4 832.0 308.0C829.7 307.6 826.3 306.6 825.2 306.3" fill="none" stroke="#f0401a" stroke-width="1.9" stroke-linecap="round" stroke-linejoin="round"/>
<path d="M755.5 114 L960.9 170.2 L958.6 178 L753.3 121.7Z" fill="#3232ee" opacity="0.86" stroke="#16168c" stroke-width="0.7"/>
<text font-size="16.5" fill="#1a1a1a" stroke="#fff" stroke-width="0.35" textLength="15.5" lengthAdjust="spacingAndGlyphs" x="790" y="12" >0°</text>
<text font-size="16.5" fill="#1a1a1a" stroke="#fff" stroke-width="0.35" textLength="41" lengthAdjust="spacingAndGlyphs" x="596.5" y="217.5" >90°W</text>
<text font-size="16.5" fill="#1a1a1a" textLength="38" lengthAdjust="spacingAndGlyphs" x="962" y="217.5" >90°E</text>
<text font-size="16.5" fill="#1a1a1a" textLength="35" lengthAdjust="spacingAndGlyphs" x="779" y="251" >85°S</text>
<text font-size="16.5" fill="#1a1a1a" stroke="#fff" stroke-width="0.35" textLength="35" lengthAdjust="spacingAndGlyphs" x="778.5" y="335" >75°S</text>
<text font-size="16.5" fill="#1a1a1a" stroke="#fff" stroke-width="0.35" textLength="35" lengthAdjust="spacingAndGlyphs" x="778.5" y="415.3" >65°S</text>
<text font-size="16.5" fill="#1a1a1a" stroke="#fff" stroke-width="0.35" textLength="35" lengthAdjust="spacingAndGlyphs" x="778.5" y="438.3" >180°</text>
<text font-size="26.5" fill="#1a1a1a" stroke="#fff" stroke-width="0.6" textLength="26.5" lengthAdjust="spacingAndGlyphs" x="664" y="106.8" >(e)</text>
<text font-size="21" fill="#1a1a1a" textLength="14" lengthAdjust="spacingAndGlyphs" x="762" y="141" >A</text>
<text font-size="21" fill="#1a1a1a" textLength="13" lengthAdjust="spacingAndGlyphs" x="952" y="201.5" >B</text>
<defs><linearGradient id="gCB" gradientUnits="userSpaceOnUse" x1="609.3" y1="0" x2="793.8" y2="0"><stop offset="0.0000" stop-color="#ffa0a4"/><stop offset="0.0580" stop-color="#ffb8a8"/><stop offset="0.1230" stop-color="#ffe0a4"/><stop offset="0.1827" stop-color="#fdfca0"/><stop offset="0.2477" stop-color="#e2ea90"/><stop offset="0.3182" stop-color="#bcd87a"/><stop offset="0.3832" stop-color="#a4d078"/><stop offset="0.4482" stop-color="#94d6a8"/><stop offset="0.5024" stop-color="#84d8d8"/><stop offset="0.5512" stop-color="#40b4f0"/><stop offset="0.5892" stop-color="#3088dc"/><stop offset="0.6379" stop-color="#3460bc"/><stop offset="0.6976" stop-color="#404298"/><stop offset="0.7518" stop-color="#6c44a0"/><stop offset="0.8060" stop-color="#9c48a8"/><stop offset="0.8547" stop-color="#cc40a4"/><stop offset="0.9035" stop-color="#ec3494"/><stop offset="0.9469" stop-color="#f42868"/><stop offset="1.0000" stop-color="#f01c1c"/></linearGradient></defs>
<rect x="609.3" y="481.5" width="184.5" height="23.4" fill="url(#gCB)" stroke="#1a1a1a" stroke-width="1"/>
<path d="M654.8 481.5v23.4M711.4 481.5v23.4M766.7 481.5v23.4" stroke="#1a1a1a" stroke-width="1"/>
<text font-size="27.5" fill="#1a1a1a" stroke="#fff" stroke-width="0.6" textLength="160" lengthAdjust="spacingAndGlyphs" x="625" y="473.3" >Velocity [m/yr]</text>
<text font-size="20" fill="#1a1a1a" stroke="#fff" stroke-width="0.6" textLength="39.5" lengthAdjust="spacingAndGlyphs" x="595" y="526.6" >&gt;1.5</text>
<text font-size="20" fill="#1a1a1a" stroke="#fff" stroke-width="0.6" textLength="20.6" lengthAdjust="spacingAndGlyphs" x="647.4" y="526.6" >10</text>
<text font-size="20" fill="#1a1a1a" stroke="#fff" stroke-width="0.6" textLength="32" lengthAdjust="spacingAndGlyphs" x="691.3" y="526.6" >100</text>
<text font-size="20" fill="#1a1a1a" stroke="#fff" stroke-width="0.6" textLength="44.2" lengthAdjust="spacingAndGlyphs" x="745.8" y="526.6" >1000</text>
<text font-size="17.5" fill="#1a1a1a" stroke="#fff" stroke-width="0.35" textLength="70" lengthAdjust="spacingAndGlyphs" x="865.5" y="480.7" >1000 km</text>
<rect x="866.8" y="484.6" width="33.6" height="7.4" fill="#fff" stroke="#888" stroke-width="0.9"/>
<rect x="900.4" y="484.2" width="33.2" height="8.2" fill="#151515"/>
<!-- panels -->
<g clip-path="url(#cpA)">
<rect x="60" y="15" width="506" height="67.5" fill="url(#gA)"/>
<path d="M448 15 L454.5 15 L469 82.5 L448 82.5Z" fill="#cbcb1b" filter="url(#b1)"/>
<path d="M60 15 L110 15 L93.5 82.5 L60 82.5Z" fill="#3a3434" />
<path d="M60 15 L110 15 L93.5 82.5 L60 82.5Z" fill="#000" filter="url(#nDark)"/>
<path d="M60 25h6M60 44.4h6M60 63h6" stroke="#241e1e" stroke-width="1"/>
<path d="M84 15 L88 15 L91 40 L89 40Z" fill="#a01820" filter="url(#b1)" opacity="0.55"/>
<path d="M110 15 L121 15 L114 82.5 L93.5 82.5Z" fill="url(#gRedStreak)" />
<path d="M112 22 L115 22 L106 70 L102 80 L104 60Z" fill="#ff1828" filter="url(#b2)" opacity="0.8"/>
<path d="M118 30 L123 42 L127 60 L127 82.5 L114 82.5 L116 55Z" fill="#4c3c3c" filter="url(#b2)" opacity="0.9"/>
<path d="M116 24 L126 36 L130 60 L130 82.5 L112 82.5 L114 50Z" fill="#000" filter="url(#nDark)" opacity="0.8"/>
<ellipse cx="136" cy="82" rx="10" ry="14" fill="#d81430" filter="url(#b3)"/>
<rect x="112" y="15" width="50" height="68" fill="#000" filter="url(#nDarkR)" opacity="0.8"/>
<path d="M160 15 L177.5 15 C178 40 180 65 185 82.5 L160 82.5Z" fill="url(#gBlueEdge)"/>
<path d="M217.5 15V82.5" stroke="#34346a" stroke-width="0.6" opacity="0.6"/>
<g transform="translate(-22.4 0) skewX(25)"><path d="M251.4 15 L303.4 15 L270 82.5 L234 82.5Z" fill="#000" filter="url(#nGrayA)"/>
</g>
<path d="M313 15 L338 15 L336 50 L330 70 L326 82.5 L320 82.5 L318 50Z" fill="#000" filter="url(#nGrayB)"/>
<rect x="346" y="15" width="62" height="68" fill="#000" filter="url(#nGrayD)"/>
<rect x="408" y="15" width="55" height="68" fill="#000" filter="url(#nGrayC)"/>
<path d="M498 15 L526 15 L518 30 L506 44 L494 40Z" fill="#fafad8" filter="url(#b3)" opacity="0.85"/>
<path d="M536 47 L545 45 L553 52 L559 64 L563 78 L564 84 L510 84 L519 80 L527 70 L532 57Z" fill="#ffffff" filter="url(#b2)"/>
<path d="M484 84 L496 76 L508 76 L520 76 L528 70 L524 84Z" fill="#eeee90" filter="url(#b2)" opacity="0.95"/>
<path d="M521 13 L536 13 L540 40 L538 49 L533.5 56 L528 66 L522 73 L514 76 L506 74 L500 70 L503 62 L507 56 L510 50 L512.5 40 L517 27Z" fill="#bcbc1a" filter="url(#b2)"/>
<path d="M524 13 L534 13 L536 40 L530 54 L522 66 L512 74 L504 74 L510 60 L515 44 L520 28Z" fill="#b6b61a" filter="url(#b2)" opacity="0.8"/>
<path d="M506.0 52.0C505.0 52.5 502.0 53.3 500.0 55.0C498.0 56.7 496.0 59.5 494.0 62.0C492.0 64.5 490.0 67.3 488.0 70.0C486.0 72.7 483.8 75.3 482.0 78.0C480.2 80.7 477.8 84.7 477.0 86.0" fill="none" stroke="#7474ec" stroke-width="12" stroke-linecap="round" filter="url(#b2)"/>
<path d="M493.0 64.0C492.3 65.0 490.3 68.0 489.0 70.0C487.7 72.0 485.7 75.0 485.0 76.0" fill="none" stroke="#5454c8" stroke-width="5" stroke-linecap="round" filter="url(#b2)"/>
<path d="M507.0 53.0C507.8 53.7 510.5 55.5 512.0 57.0C513.5 58.5 514.8 60.2 516.0 62.0C517.2 63.8 518.5 67.0 519.0 68.0" fill="none" stroke="#9090b8" stroke-width="6" stroke-linecap="round" filter="url(#b3)" opacity="0.75"/>
<path d="M534 13 L548 13 L551 30 L555 45 L559 60 L563 75 L566 84 L562 84 L557 70 L551 57 L545 46 L540 40 L536 28Z" fill="#7676ee" filter="url(#b2)"/>
<path d="M538 13 L547 13 L550 30 L553 42 L548 42 L542 30Z" fill="#7070ea" filter="url(#b1)"/>
<path d="M533 13 L538 13 L541 34 L538 40Z" fill="#9a9ac8" filter="url(#b2)" opacity="0.7"/>
<path d="M547 15 L566 15 L566 82.5 L564 76 L560 64 L556 50 L552 35Z" fill="#d2d2cc" />
<path d="M547 15 L566 15 L566 82.5 L564 76 L560 64 L556 50 L552 35Z" fill="#000" filter="url(#nWhite)"/>
<path d="M547 15 L551 32 L555 47 L559 61 L563 72 L566 78" fill="none" stroke="#181818" stroke-width="1.4" />
<path d="M556 29 L566 29" fill="none" stroke="#555" stroke-width="0.8" />
<path d="M558 48 L566 48" fill="none" stroke="#555" stroke-width="0.8" />
<path d="M560 66 L566 66" fill="none" stroke="#444" stroke-width="1" />
<path d="M545 70 L555 68 L557 82.5 L543 82.5Z" fill="#c4c4bc" filter="url(#b1)"/>
<path d="M545 70 L555 68 L557 82.5 L543 82.5Z" fill="#000" filter="url(#nWhite)"/>
</g>
<rect x="60" y="15" width="506" height="67.5" fill="none" stroke="#222" stroke-width="1"/>
<g transform="translate(56 118.4) scale(1.0059 1.0089) translate(-60 -15)"><g clip-path="url(#cpA)">
<rect x="60" y="15" width="506" height="67.5" fill="url(#gA)"/>
<path d="M448 15 L454.5 15 L469 82.5 L448 82.5Z" fill="#cbcb1b" filter="url(#b1)"/>
<path d="M109.5 15 L121 15 L114 82.5 L92.5 82.5Z" fill="url(#gRedStreak)" />
<path d="M112 22 L115 22 L106 70 L102 80 L104 60Z" fill="#ff1828" filter="url(#b2)" opacity="0.8"/>
<ellipse cx="136" cy="82" rx="10" ry="14" fill="#d81430" filter="url(#b3)"/>
<path d="M160 15 L177.5 15 C178 40 180 65 185 82.5 L160 82.5Z" fill="url(#gBlueEdge)"/>
<path d="M217.5 15V82.5" stroke="#34346a" stroke-width="0.6" opacity="0.6"/>
<path d="M498 15 L526 15 L518 30 L506 44 L494 40Z" fill="#fafad8" filter="url(#b3)" opacity="0.85"/>
<path d="M536 47 L545 45 L553 52 L559 64 L563 78 L564 84 L510 84 L519 80 L527 70 L532 57Z" fill="#ffffff" filter="url(#b2)"/>
<path d="M484 84 L496 76 L508 76 L520 76 L528 70 L524 84Z" fill="#eeee90" filter="url(#b2)" opacity="0.95"/>
<path d="M521 13 L536 13 L540 40 L538 49 L533.5 56 L528 66 L522 73 L514 76 L506 74 L500 70 L503 62 L507 56 L510 50 L512.5 40 L517 27Z" fill="#bcbc1a" filter="url(#b2)"/>
<path d="M524 13 L534 13 L536 40 L530 54 L522 66 L512 74 L504 74 L510 60 L515 44 L520 28Z" fill="#b6b61a" filter="url(#b2)" opacity="0.8"/>
<path d="M506.0 52.0C505.0 52.5 502.0 53.3 500.0 55.0C498.0 56.7 496.0 59.5 494.0 62.0C492.0 64.5 490.0 67.3 488.0 70.0C486.0 72.7 483.8 75.3 482.0 78.0C480.2 80.7 477.8 84.7 477.0 86.0" fill="none" stroke="#7474ec" stroke-width="12" stroke-linecap="round" filter="url(#b2)"/>
<path d="M493.0 64.0C492.3 65.0 490.3 68.0 489.0 70.0C487.7 72.0 485.7 75.0 485.0 76.0" fill="none" stroke="#5454c8" stroke-width="5" stroke-linecap="round" filter="url(#b2)"/>
<path d="M507.0 53.0C507.8 53.7 510.5 55.5 512.0 57.0C513.5 58.5 514.8 60.2 516.0 62.0C517.2 63.8 518.5 67.0 519.0 68.0" fill="none" stroke="#9090b8" stroke-width="6" stroke-linecap="round" filter="url(#b3)" opacity="0.75"/>
<path d="M534 13 L548 13 L551 30 L555 45 L559 60 L563 75 L566 84 L562 84 L557 70 L551 57 L545 46 L540 40 L536 28Z" fill="#7676ee" filter="url(#b2)"/>
<path d="M538 13 L547 13 L550 30 L553 42 L548 42 L542 30Z" fill="#7070ea" filter="url(#b1)"/>
<path d="M533 13 L538 13 L541 34 L538 40Z" fill="#9a9ac8" filter="url(#b2)" opacity="0.7"/>
<use href="#blk"/>
<path d="M85 15 L89 15 L91 50 L89 58 L87 40Z" fill="#b00c1c" filter="url(#nRedC)"/>
<path d="M563 70 L566 72 L566 82.5 L564 82.5Z" fill="#6c6ce0" />
</g>
<rect x="60" y="15" width="506" height="67.5" fill="none" stroke="#222" stroke-width="1"/></g>
<g transform="translate(55.6 221) scale(1.0083 1.0030) translate(-60 -15)"><g clip-path="url(#cpA)">
<rect x="60" y="15" width="506" height="67.5" fill="url(#gC)"/>
<path d="M109.5 15 L119 15 L110 82.5 L92.5 82.5Z" fill="#d81030" />
<path d="M109.5 15 L119 15 L110 82.5 L92.5 82.5Z" fill="#000" filter="url(#nBluC)" opacity="0.45"/>
<path d="M119 15 L156 15 L160 35 L160 60 L156 82.5 L146 82.5 L134 70 L122 76 L118 82.5 L110 82.5Z" fill="#5c5cb4" filter="url(#b3)"/>
<ellipse cx="131" cy="50" rx="9" ry="18" fill="#7272ca" filter="url(#b3)"/>
<ellipse cx="137" cy="82" rx="10" ry="13" fill="#d41434" filter="url(#b2)"/>
<rect x="120" y="15" width="50" height="68" fill="#000" filter="url(#nBluC)" opacity="0.5"/>
<ellipse cx="176" cy="55" rx="6" ry="5" fill="#4c5ca4" filter="url(#b2)" opacity="0.6"/>
<rect x="158" y="15" width="32" height="68" fill="#000" filter="url(#nRedC)" opacity="0.22"/>
<rect x="190" y="15" width="45" height="68" fill="#000" filter="url(#nRedC)" opacity="0.5"/>
<rect x="215" y="15" width="60" height="68" fill="#000" filter="url(#nBluC)" opacity="0.55"/>
<rect x="275" y="15" width="115" height="68" fill="#000" filter="url(#nBluC)" opacity="0.22"/>
<rect x="386" y="15" width="30" height="68" fill="#000" filter="url(#nRedC)" opacity="0.6"/>
<ellipse cx="420" cy="75" rx="7" ry="6" fill="#c02850" filter="url(#b3)"/>
<path d="M424 78 L430 72 L434 76 L436 82.5 L424 82.5Z" fill="#e01030" filter="url(#b1)"/>
<ellipse cx="452" cy="30" rx="3.5" ry="13" fill="#e01030" transform="rotate(-20 452 30)"/>
<ellipse cx="464" cy="33" rx="3" ry="5" fill="#e01030" transform="rotate(-20 464 33)"/>
<ellipse cx="472" cy="52" rx="3" ry="6" fill="#e01030" transform="rotate(-20 472 52)"/>
<ellipse cx="476" cy="58" rx="2.5" ry="5" fill="#e01030" transform="rotate(-20 476 58)"/>
<ellipse cx="462" cy="68" rx="4" ry="3" fill="#e01030" transform="rotate(-20 462 68)"/>
<ellipse cx="468" cy="76" rx="5" ry="3.5" fill="#e01030" transform="rotate(-20 468 76)"/>
<ellipse cx="504" cy="25" rx="4" ry="5" fill="#e01030" transform="rotate(-20 504 25)"/>
<ellipse cx="514" cy="19" rx="5" ry="3" fill="#e01030" transform="rotate(-20 514 19)"/>
<ellipse cx="488" cy="47" rx="3" ry="5" fill="#e01030" transform="rotate(-20 488 47)"/>
<ellipse cx="492" cy="79" rx="4" ry="3" fill="#e01030" transform="rotate(-20 492 79)"/>
<ellipse cx="480" cy="30" rx="2" ry="6" fill="#e01030" transform="rotate(-20 480 30)"/>
<ellipse cx="497" cy="38" rx="2.5" ry="4" fill="#e01030" transform="rotate(-20 497 38)"/>
<ellipse cx="444" cy="80" rx="5" ry="3" fill="#e01030" transform="rotate(-20 444 80)"/>
<ellipse cx="452" cy="29" rx="2" ry="10" fill="#000" transform="rotate(-12 452 29)"/>
<path d="M470 15 L478 15 L500 60 L494 62Z" fill="#4848b0" filter="url(#b2)" opacity="0.7"/>
<path d="M532 64 L544 45 L552 56 L559 74 L556 82.5 L504 82.5 L514 74Z" fill="#7070e0" />
<ellipse cx="520" cy="76" rx="1.6" ry="5" fill="#e01030" transform="rotate(25 520 76)"/>
<ellipse cx="527" cy="70" rx="1.6" ry="5" fill="#e01030" transform="rotate(25 527 70)"/>
<ellipse cx="534" cy="66" rx="1.6" ry="5" fill="#e01030" transform="rotate(25 534 66)"/>
<ellipse cx="540" cy="60" rx="1.6" ry="5" fill="#e01030" transform="rotate(25 540 60)"/>
<ellipse cx="530" cy="80" rx="1.6" ry="5" fill="#e01030" transform="rotate(25 530 80)"/>
<ellipse cx="538" cy="76" rx="1.6" ry="5" fill="#e01030" transform="rotate(25 538 76)"/>
<ellipse cx="545" cy="70" rx="1.6" ry="5" fill="#e01030" transform="rotate(25 545 70)"/>
<ellipse cx="512" cy="80" rx="1.6" ry="5" fill="#e01030" transform="rotate(25 512 80)"/>
<ellipse cx="547" cy="62" rx="1.6" ry="5" fill="#e01030" transform="rotate(25 547 62)"/>
<path d="M522 13 L546 13 L549 31.5 L546 42 L544.6 45 L535.6 49.5 L529.6 58.5 L523.6 69 L516 75 L505.6 72 L496.6 69 L490.6 75 L486 84 L474.5 84 L480 73.5 L487.6 60 L495 48 L505.6 40.5 L514.6 28.5Z" fill="#f6f6c4" filter="url(#b1)"/>
<path d="M523 13 L534 13 L534 30 L529 42 L529 55 L524 67 L516 73.5 L506 70.5 L498 67.5 L492 73 L487 79 L490 68 L495 57 L502 48 L510 41 L517 28Z" fill="#c9c926" filter="url(#b2)"/>
<path d="M541.0 47.0C539.7 47.8 535.3 49.5 533.0 52.0C530.7 54.5 529.0 59.0 527.0 62.0C525.0 65.0 523.3 68.2 521.0 70.0C518.7 71.8 515.7 73.0 513.0 73.0C510.3 73.0 506.3 70.5 505.0 70.0" fill="none" stroke="#b8b818" stroke-width="3" stroke-linecap="round" filter="url(#b1)"/>
<path d="M535 13 L546 13 L548.5 31 L546 43 L539 46.5 L532 51 L530.5 44 L534 30Z" fill="#ffffff" filter="url(#b2)"/>
<path d="M477 84 L482 73 L488 63 L493 59 L497 62 L492 72 L488 84Z" fill="#ffffff" filter="url(#b2)"/>
<path d="M549 28 L553 40 L558 52 L562 64 L564 76 L565 84 L562 84 L560 70 L556 58 L551 46 L547.5 36Z" fill="#fafad0" filter="url(#b1)"/>
<path d="M217.5 15V82.5" stroke="#34346a" stroke-width="0.6" opacity="0.6"/>
<use href="#blk"/>
<path d="M85 15 L89 15 L91 50 L89 58 L87 40Z" fill="#5858b8" filter="url(#nBluL)"/>
</g>
<rect x="60" y="15" width="506" height="67.5" fill="none" stroke="#222" stroke-width="1"/></g>
<text font-size="26.5" fill="#1a1a1a" stroke="#fff" stroke-width="0.6" textLength="26.8" lengthAdjust="spacingAndGlyphs" x="570" y="54.7" >(a)</text>
<text font-size="26.5" fill="#1a1a1a" stroke="#fff" stroke-width="0.6" textLength="27" lengthAdjust="spacingAndGlyphs" x="570" y="156.2" >(b)</text>
<text font-size="26.5" fill="#1a1a1a" stroke="#fff" stroke-width="0.6" textLength="26.6" lengthAdjust="spacingAndGlyphs" x="570" y="257" >(c)</text>
<text font-size="16" fill="#1a1a1a" stroke="#fff" stroke-width="0.35" text-anchor="end" x="53.2" y="133" >100</text>
<text font-size="16" fill="#1a1a1a" stroke="#fff" stroke-width="0.35" text-anchor="end" x="53.2" y="152.2" >66</text>
<text font-size="16" fill="#1a1a1a" stroke="#fff" stroke-width="0.35" text-anchor="end" x="53.2" y="170" >33</text>
<text font-size="16" fill="#1a1a1a" stroke="#fff" stroke-width="0.35" text-anchor="end" x="53.2" y="188.2" >0</text>
<text font-size="20.5" fill="#1a1a1a" stroke="#fff" stroke-width="0.6" textLength="167" lengthAdjust="spacingAndGlyphs" transform="translate(16.9 237) rotate(-90)" >ground range [km]</text>
<!-- chart -->
<path d="M56.5 399.6 L62 400.2 L70 400.4 L74 399.6 L82 399.8 L93 400 L105 400 L109 399.4 L111 396 L113 388 L115 380 L116.5 376.5 L118 379 L120 388 L122 396 L124 399.5 L130 400 L150 399.6 L160 398.6 L168 396.6 L173.5 395 L178 396.5 L184 398.6 L192 399.6 L210 399.8 L260 400 L320 400.2 L380 400.4 L420 400.8 L436 404 L440 403 L443 410 L445.3 418.5 L447.5 412 L450.6 405.5 L453 410 L456.7 418.5 L459 410 L461.5 402 L463.5 399.5 L466 402 L468 399 L470 402 L474 400 L478 402 L481 400 L482.5 420 L484.6 483.3" fill="none" stroke="#19aee6" stroke-width="1.8" stroke-linejoin="round"/>
<path d="M492.6 483.3 L492.9 440 L493.2 417 L496 414 L500 414.5 L503 412 L505 406 L506.2 392 L507.2 380 L508.2 392 L509 401.5 L510 396 L511 390.5 L512 398 L513 410 L514.5 419 L516.5 417 L519 414 L520.5 405 L522 388 L523.5 377 L525.3 374.5 L526.8 380 L528.2 392 L529.5 398 L530.5 408 L531.4 414 L532.5 404 L533.4 392 L534.3 385 L535.4 392 L536.7 401 L539 399 L542 401 L545 399.5 L547 401 L548.4 413 L549.5 406 L551 399.6 L555 399.3 L562 399.3" fill="none" stroke="#19aee6" stroke-width="1.8" stroke-linejoin="round"/>
<path d="M250.8 409.9l5.2 -4.8l5.2 4.8l-5.2 4.8zM252.1 409.5l5.2 -4.8l5.2 4.8l-5.2 4.8zM253.4 409.1l5.2 -4.8l5.2 4.8l-5.2 4.8zM254.7 408.8l5.2 -4.8l5.2 4.8l-5.2 4.8zM256.0 408.4l5.2 -4.8l5.2 4.8l-5.2 4.8zM257.3 408.1l5.2 -4.8l5.2 4.8l-5.2 4.8zM258.6 407.7l5.2 -4.8l5.2 4.8l-5.2 4.8zM259.9 407.3l5.2 -4.8l5.2 4.8l-5.2 4.8zM261.2 407.0l5.2 -4.8l5.2 4.8l-5.2 4.8zM262.5 406.6l5.2 -4.8l5.2 4.8l-5.2 4.8zM263.8 406.3l5.2 -4.8l5.2 4.8l-5.2 4.8zM265.1 405.9l5.2 -4.8l5.2 4.8l-5.2 4.8zM266.4 405.5l5.2 -4.8l5.2 4.8l-5.2 4.8zM267.7 405.2l5.2 -4.8l5.2 4.8l-5.2 4.8zM269.0 404.8l5.2 -4.8l5.2 4.8l-5.2 4.8zM270.3 404.5l5.2 -4.8l5.2 4.8l-5.2 4.8zM271.6 404.1l5.2 -4.8l5.2 4.8l-5.2 4.8zM272.9 403.7l5.2 -4.8l5.2 4.8l-5.2 4.8zM274.2 403.4l5.2 -4.8l5.2 4.8l-5.2 4.8zM275.5 403.0l5.2 -4.8l5.2 4.8l-5.2 4.8zM276.8 402.7l5.2 -4.8l5.2 4.8l-5.2 4.8zM278.1 402.3l5.2 -4.8l5.2 4.8l-5.2 4.8zM279.4 401.9l5.2 -4.8l5.2 4.8l-5.2 4.8zM280.7 401.6l5.2 -4.8l5.2 4.8l-5.2 4.8zM282.0 401.2l5.2 -4.8l5.2 4.8l-5.2 4.8zM283.3 400.9l5.2 -4.8l5.2 4.8l-5.2 4.8zM284.6 400.5l5.2 -4.8l5.2 4.8l-5.2 4.8zM285.9 400.1l5.2 -4.8l5.2 4.8l-5.2 4.8zM287.2 399.8l5.2 -4.8l5.2 4.8l-5.2 4.8zM288.5 399.4l5.2 -4.8l5.2 4.8l-5.2 4.8zM289.8 399.1l5.2 -4.8l5.2 4.8l-5.2 4.8zM291.1 398.7l5.2 -4.8l5.2 4.8l-5.2 4.8zM292.4 398.3l5.2 -4.8l5.2 4.8l-5.2 4.8zM293.7 398.0l5.2 -4.8l5.2 4.8l-5.2 4.8zM295.0 397.6l5.2 -4.8l5.2 4.8l-5.2 4.8zM296.3 397.3l5.2 -4.8l5.2 4.8l-5.2 4.8zM297.6 396.9l5.2 -4.8l5.2 4.8l-5.2 4.8zM298.9 396.5l5.2 -4.8l5.2 4.8l-5.2 4.8zM300.2 396.2l5.2 -4.8l5.2 4.8l-5.2 4.8zM301.5 395.8l5.2 -4.8l5.2 4.8l-5.2 4.8zM302.8 395.5l5.2 -4.8l5.2 4.8l-5.2 4.8zM304.1 395.1l5.2 -4.8l5.2 4.8l-5.2 4.8zM305.4 394.7l5.2 -4.8l5.2 4.8l-5.2 4.8zM306.7 394.4l5.2 -4.8l5.2 4.8l-5.2 4.8zM308.0 394.0l5.2 -4.8l5.2 4.8l-5.2 4.8zM309.3 393.7l5.2 -4.8l5.2 4.8l-5.2 4.8zM310.6 393.3l5.2 -4.8l5.2 4.8l-5.2 4.8zM311.9 392.9l5.2 -4.8l5.2 4.8l-5.2 4.8zM313.2 390.8l5.2 -4.8l5.2 4.8l-5.2 4.8zM314.5 390.4l5.2 -4.8l5.2 4.8l-5.2 4.8zM315.8 390.1l5.2 -4.8l5.2 4.8l-5.2 4.8zM317.1 389.7l5.2 -4.8l5.2 4.8l-5.2 4.8zM318.4 389.3l5.2 -4.8l5.2 4.8l-5.2 4.8zM319.7 389.0l5.2 -4.8l5.2 4.8l-5.2 4.8zM321.0 388.6l5.2 -4.8l5.2 4.8l-5.2 4.8zM322.3 388.3l5.2 -4.8l5.2 4.8l-5.2 4.8zM323.6 387.9l5.2 -4.8l5.2 4.8l-5.2 4.8zM324.9 387.5l5.2 -4.8l5.2 4.8l-5.2 4.8zM326.2 387.2l5.2 -4.8l5.2 4.8l-5.2 4.8zM327.5 386.8l5.2 -4.8l5.2 4.8l-5.2 4.8zM328.8 386.5l5.2 -4.8l5.2 4.8l-5.2 4.8zM330.1 386.1l5.2 -4.8l5.2 4.8l-5.2 4.8zM331.4 385.7l5.2 -4.8l5.2 4.8l-5.2 4.8zM332.7 385.4l5.2 -4.8l5.2 4.8l-5.2 4.8zM334.0 385.0l5.2 -4.8l5.2 4.8l-5.2 4.8zM335.3 384.7l5.2 -4.8l5.2 4.8l-5.2 4.8zM336.6 384.3l5.2 -4.8l5.2 4.8l-5.2 4.8zM337.9 383.9l5.2 -4.8l5.2 4.8l-5.2 4.8zM339.2 383.6l5.2 -4.8l5.2 4.8l-5.2 4.8zM340.5 383.2l5.2 -4.8l5.2 4.8l-5.2 4.8zM341.8 382.9l5.2 -4.8l5.2 4.8l-5.2 4.8zM343.1 382.5l5.2 -4.8l5.2 4.8l-5.2 4.8zM344.4 382.1l5.2 -4.8l5.2 4.8l-5.2 4.8zM345.7 381.8l5.2 -4.8l5.2 4.8l-5.2 4.8z" fill="none" stroke="#4c4cac" stroke-width="0.55" opacity="0.9"/>
<path d="M247 411.2L354 381.5" stroke="#111" stroke-width="2" stroke-dasharray="3.2 1.1"/>
<path d="M354 381.5L376 375.4" stroke="#111" stroke-width="2" stroke-dasharray="1.6 2.2"/>
<path d="M376.4 375.3L410 366.0" stroke="#111" stroke-width="2"/>
<path d="M412 365.5L424 362.1" stroke="#111" stroke-width="2"/>
<path d="M92.9 456.9 L98 455.3 L103 453.6 L108 451.4 L111.7 449.4" fill="none" stroke="#111" stroke-width="2"/>
<path d="M117.6 444.9 L119.5 443.4 L122 442 L125 441.3 L128 441.6 L130.6 443 L133 442.4 L136 442.2 L140.7 441.3 L150 438.2 L160 435.3 L246 411.4" fill="none" stroke="#111" stroke-width="2"/>
<path d="M426 365.9 L432 364 L438 362 L442 360.6 L445 360 L448.5 360.3 L452 361 L454.5 362.6 L456.2 363.8 L458.5 364.2 L461 365 L463 364.2 L464.6 363 L465.3 359 L466 355.4 L468 353.5 L470 351.8 L471.6 350.5 L473.5 349.6 L475 349.1 L476.5 350.5 L478 354 L479.3 358.2 L480.2 364 L480.7 371.4" fill="none" stroke="#111" stroke-width="2" stroke-linejoin="round"/>
<path d="M480.8 396 L481.2 405 L482 414 L483.2 420 L484.5 416 L486.5 410 L489 402 L492 395 L495 391.5 L498 389.5 L502 387.5 L506 385 L510 382 L513.5 379 L516 375 L518 369 L519.5 363 L521 353 L522.5 345 L524 339.5 L526 337 L528 336 L530 334.5 L532 333 L535 332 L538 332.5 L540 331 L542 329.5 L544 328.5 L546 329.5 L548 329 L549.5 331 L551 333 L551.8 345 L552.6 368 L553.6 388 L554.8 402 L555.6 398 L556.4 393" fill="none" stroke="#111" stroke-width="2" stroke-linejoin="round"/>
<path d="M93 400 L100 400.4 L108 400 L114 399 L119 397 L123.5 395.3 L127 396 L131 397.6 L140 398.6 L160 399.2 L200 399.6 L260 399.8 L320 400 L380 400.2 L415 400.5 L424 401.5 L430 403.5 L436 404 L441 402.5 L446 403 L452 404.5 L458 405.5 L462 404 L465 400.5 L467.5 400.8 L470 402.5 L472 400.5 L475.5 403 L478 401.5 L480 403 L481 405" fill="none" stroke="#d6142e" stroke-width="1.9" stroke-linejoin="round"/>
<path d="M480.8 447.5 L481.8 458 L482.8 468 L484.2 473.6 L485.6 470 L487.2 465 L489 461 L491.5 455 L494 451 L498 448 L502 446 L507 444 L512 442 L515 439 L517.5 434 L519.5 424 L521 416 L522.5 411 L524.5 406 L527 403 L530 401 L534 400 L537 401.5 L540 400 L543 401.5 L545 400 L547 402 L549 399 L550.5 401 L551.6 407 L552.4 425 L553.2 448 L554 465 L555 474.5 L555.6 470 L556.2 465" fill="none" stroke="#d6142e" stroke-width="1.9" stroke-linejoin="round"/>
<path d="M94.6 450.4L101.0 463.0L88.2 463.0ZM96.9 450.0L103.3 462.6L90.5 462.6ZM99.1 449.6L105.5 462.2L92.7 462.2ZM100.8 449.2L107.2 461.8L94.4 461.8Z" fill="none" stroke="#7878f0" stroke-width="0.7"/>
<path d="M468.4 344.8L475.1 357.0L461.7 357.0ZM530.0 328.8L536.7 341.0L523.3 341.0ZM538.5 326.6L545.2 338.8L531.8 338.8Z" fill="none" stroke="#7474ea" stroke-width="2.1" stroke-linejoin="miter"/>
<rect x="56.5" y="315.5" width="505.5" height="167.8" fill="none" stroke="#8a8a8a" stroke-width="1.1"/>
<path d="M56.5 483.3v-5M73.9 483.3v-2.5M91.3 483.3v-2.5M108.7 483.3v-2.5M126.1 483.3v-2.5M143.5 483.3v-5M160.9 483.3v-2.5M178.3 483.3v-2.5M195.7 483.3v-2.5M213.1 483.3v-2.5M230.5 483.3v-5M247.9 483.3v-2.5M265.3 483.3v-2.5M282.7 483.3v-2.5M300.1 483.3v-2.5M317.5 483.3v-5M334.9 483.3v-2.5M352.3 483.3v-2.5M369.7 483.3v-2.5M387.1 483.3v-2.5M404.5 483.3v-5M421.9 483.3v-2.5M439.3 483.3v-2.5M456.7 483.3v-2.5M474.1 483.3v-2.5M491.5 483.3v-5M508.9 483.3v-2.5M526.3 483.3v-2.5M543.7 483.3v-2.5M561.1 483.3v-2.5M56.5 483.1h10.5M562 483.1h-10.5M56.5 477.6h5.5M562 477.6h-5.5M56.5 472.0h5.5M562 472.0h-5.5M56.5 466.4h5.5M562 466.4h-5.5M56.5 460.8h5.5M562 460.8h-5.5M56.5 455.2h10.5M562 455.2h-10.5M56.5 449.6h5.5M562 449.6h-5.5M56.5 444.0h5.5M562 444.0h-5.5M56.5 438.4h5.5M562 438.4h-5.5M56.5 432.8h5.5M562 432.8h-5.5M56.5 427.2h10.5M562 427.2h-10.5M56.5 421.7h5.5M562 421.7h-5.5M56.5 416.1h5.5M562 416.1h-5.5M56.5 410.5h5.5M562 410.5h-5.5M56.5 404.9h5.5M562 404.9h-5.5M56.5 399.3h10.5M562 399.3h-10.5M56.5 393.7h5.5M562 393.7h-5.5M56.5 388.1h5.5M562 388.1h-5.5M56.5 382.5h5.5M562 382.5h-5.5M56.5 376.9h5.5M562 376.9h-5.5M56.5 371.4h10.5M562 371.4h-10.5M56.5 365.8h5.5M562 365.8h-5.5M56.5 360.2h5.5M562 360.2h-5.5M56.5 354.6h5.5M562 354.6h-5.5M56.5 349.0h5.5M562 349.0h-5.5M56.5 343.4h10.5M562 343.4h-10.5M56.5 337.8h5.5M562 337.8h-5.5M56.5 332.2h5.5M562 332.2h-5.5M56.5 326.6h5.5M562 326.6h-5.5M56.5 321.0h5.5M562 321.0h-5.5M56.5 315.5h10.5M562 315.5h-10.5" stroke="#8a8a8a" stroke-width="0.9" fill="none"/>
<text font-size="16.8" fill="#1a1a1a" stroke="#fff" stroke-width="0.35" text-anchor="end" x="50" y="321.5" >15</text>
<text font-size="16.8" fill="#1a1a1a" stroke="#fff" stroke-width="0.35" text-anchor="end" x="50" y="349.4" >10</text>
<text font-size="16.8" fill="#1a1a1a" stroke="#fff" stroke-width="0.35" text-anchor="end" x="50" y="377.4" >5</text>
<text font-size="16.8" fill="#1a1a1a" stroke="#fff" stroke-width="0.35" text-anchor="end" x="50" y="405.3" >0</text>
<text font-size="16.8" fill="#1a1a1a" stroke="#fff" stroke-width="0.35" text-anchor="end" x="50" y="433.2" >-5</text>
<text font-size="16.8" fill="#1a1a1a" stroke="#fff" stroke-width="0.35" text-anchor="end" x="50" y="461.2" >-10</text>
<text font-size="16.8" fill="#1a1a1a" stroke="#fff" stroke-width="0.35" text-anchor="end" x="50" y="489.1" >-15</text>
<text font-size="17.6" fill="#1a1a1a" stroke="#fff" stroke-width="0.35" text-anchor="middle" x="56.5" y="504" >0</text>
<text font-size="17.6" fill="#1a1a1a" stroke="#fff" stroke-width="0.35" text-anchor="middle" textLength="29" lengthAdjust="spacingAndGlyphs" x="145.6" y="504" >500</text>
<text font-size="17.6" fill="#1a1a1a" stroke="#fff" stroke-width="0.35" text-anchor="middle" textLength="39" lengthAdjust="spacingAndGlyphs" x="235" y="504" >1000</text>
<text font-size="17.6" fill="#1a1a1a" stroke="#fff" stroke-width="0.35" text-anchor="middle" textLength="39" lengthAdjust="spacingAndGlyphs" x="322.5" y="504" >1500</text>
<text font-size="17.6" fill="#1a1a1a" stroke="#fff" stroke-width="0.35" text-anchor="middle" textLength="40" lengthAdjust="spacingAndGlyphs" x="409.5" y="504" >2000</text>
<text font-size="17.6" fill="#1a1a1a" stroke="#fff" stroke-width="0.35" text-anchor="middle" textLength="40" lengthAdjust="spacingAndGlyphs" x="496.5" y="504" >2500</text>
<text font-size="18.3" fill="#1a1a1a" stroke="#fff" stroke-width="0.35" textLength="105" lengthAdjust="spacingAndGlyphs" x="261.3" y="524.5" >distance [km]</text>
<text font-size="20.5" fill="#1a1a1a" stroke="#fff" stroke-width="0.6" textLength="85.5" lengthAdjust="spacingAndGlyphs" transform="translate(16.3 444.5) rotate(-90)" >δaz [pixel]</text>
<text font-size="31" fill="#1a1a1a" stroke="#fff" stroke-width="0.6" textLength="32" lengthAdjust="spacingAndGlyphs" x="73.7" y="350.5" >(d)</text>
<text font-size="30" fill="#1a1a1a" stroke="#fff" stroke-width="0.6" textLength="21" lengthAdjust="spacingAndGlyphs" x="46.5" y="534" >A</text>
<text font-size="28" fill="#1a1a1a" stroke="#fff" stroke-width="0.6" textLength="19" lengthAdjust="spacingAndGlyphs" x="554.5" y="527.2" >B</text>
</svg>
</body></html>
